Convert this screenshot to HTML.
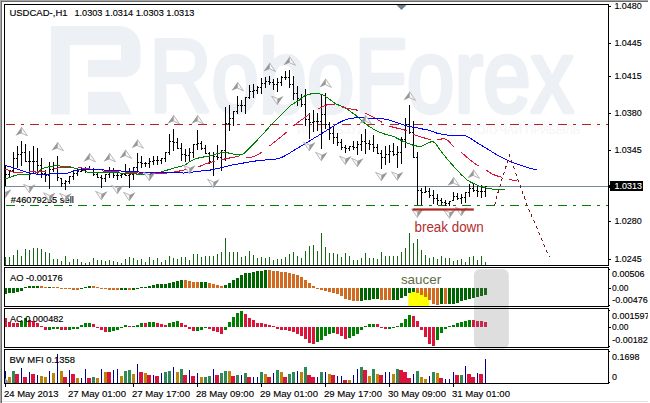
<!DOCTYPE html>
<html><head><meta charset="utf-8"><title>USDCAD H1</title>
<style>html,body{margin:0;padding:0;background:#fff;overflow:hidden;width:650px;height:403px;}svg{display:block}text{font-family:"Liberation Sans",sans-serif;}</style>
</head><body>
<svg width="650" height="403" viewBox="0 0 650 403">
<clipPath id="clipR"><rect x="0" y="0" width="648" height="403"/></clipPath>
<g clip-path="url(#clipR)">
<rect x="0" y="0" width="650" height="403" fill="#fff"/>
<g fill="#edf1f5">
<path d="M51,26 H119.5 A21,21 0 0 1 140.5,47 V62 A15,15 0 0 1 125.5,77 H88 V60 H121 V45 H69.8 V114.5 H51 Z"/>
<path d="M88,91.8 H120.3 L131.8,114.5 H88 Z"/>
<text transform="translate(149.5,111.6) scale(1,1.225)" x="0" y="0" font-family="Liberation Sans, sans-serif" font-size="85" stroke="#edf1f5" stroke-width="3.6" stroke-linejoin="round" textLength="424" lengthAdjust="spacingAndGlyphs">RoboForex</text>
</g>
<text x="297" y="134" font-family="Liberation Sans, sans-serif" font-size="12" fill="#f4f5f8" textLength="283" lengthAdjust="spacingAndGlyphs">ИСПОЛЬЗУЙ ВОЗМОЖНОСТЬ – ПОЛУЧАЙ ПРИБЫЛЬ</text>
<g shape-rendering="crispEdges">
<rect x="0" y="0" width="650" height="1" fill="#a8a8a8"/><rect x="0" y="0" width="1" height="403" fill="#a8a8a8"/>
<rect x="1" y="1" width="649" height="1" fill="#6a6a6a"/><rect x="1" y="1" width="1" height="402" fill="#6a6a6a"/>
<rect x="648" y="2" width="1" height="400" fill="#e3e3e3"/><rect x="2" y="401" width="647" height="1" fill="#e3e3e3"/>
<rect x="6" y="124" width="9" height="1" fill="#b22222"/>
<rect x="21" y="124" width="3" height="1" fill="#b22222"/>
<rect x="30" y="124" width="9" height="1" fill="#b22222"/>
<rect x="45" y="124" width="3" height="1" fill="#b22222"/>
<rect x="54" y="124" width="9" height="1" fill="#b22222"/>
<rect x="69" y="124" width="3" height="1" fill="#b22222"/>
<rect x="78" y="124" width="9" height="1" fill="#b22222"/>
<rect x="93" y="124" width="3" height="1" fill="#b22222"/>
<rect x="102" y="124" width="9" height="1" fill="#b22222"/>
<rect x="117" y="124" width="3" height="1" fill="#b22222"/>
<rect x="126" y="124" width="9" height="1" fill="#b22222"/>
<rect x="141" y="124" width="3" height="1" fill="#b22222"/>
<rect x="150" y="124" width="9" height="1" fill="#b22222"/>
<rect x="165" y="124" width="3" height="1" fill="#b22222"/>
<rect x="174" y="124" width="9" height="1" fill="#b22222"/>
<rect x="189" y="124" width="3" height="1" fill="#b22222"/>
<rect x="198" y="124" width="9" height="1" fill="#b22222"/>
<rect x="213" y="124" width="3" height="1" fill="#b22222"/>
<rect x="222" y="124" width="9" height="1" fill="#b22222"/>
<rect x="237" y="124" width="3" height="1" fill="#b22222"/>
<rect x="246" y="124" width="9" height="1" fill="#b22222"/>
<rect x="261" y="124" width="3" height="1" fill="#b22222"/>
<rect x="270" y="124" width="9" height="1" fill="#b22222"/>
<rect x="285" y="124" width="3" height="1" fill="#b22222"/>
<rect x="294" y="124" width="9" height="1" fill="#b22222"/>
<rect x="309" y="124" width="3" height="1" fill="#b22222"/>
<rect x="318" y="124" width="9" height="1" fill="#b22222"/>
<rect x="333" y="124" width="3" height="1" fill="#b22222"/>
<rect x="342" y="124" width="9" height="1" fill="#b22222"/>
<rect x="357" y="124" width="3" height="1" fill="#b22222"/>
<rect x="366" y="124" width="9" height="1" fill="#b22222"/>
<rect x="381" y="124" width="3" height="1" fill="#b22222"/>
<rect x="390" y="124" width="9" height="1" fill="#b22222"/>
<rect x="405" y="124" width="3" height="1" fill="#b22222"/>
<rect x="414" y="124" width="9" height="1" fill="#b22222"/>
<rect x="429" y="124" width="3" height="1" fill="#b22222"/>
<rect x="438" y="124" width="9" height="1" fill="#b22222"/>
<rect x="453" y="124" width="3" height="1" fill="#b22222"/>
<rect x="462" y="124" width="9" height="1" fill="#b22222"/>
<rect x="477" y="124" width="3" height="1" fill="#b22222"/>
<rect x="486" y="124" width="9" height="1" fill="#b22222"/>
<rect x="501" y="124" width="3" height="1" fill="#b22222"/>
<rect x="510" y="124" width="9" height="1" fill="#b22222"/>
<rect x="525" y="124" width="3" height="1" fill="#b22222"/>
<rect x="534" y="124" width="9" height="1" fill="#b22222"/>
<rect x="549" y="124" width="3" height="1" fill="#b22222"/>
<rect x="558" y="124" width="9" height="1" fill="#b22222"/>
<rect x="573" y="124" width="3" height="1" fill="#b22222"/>
<rect x="582" y="124" width="9" height="1" fill="#b22222"/>
<rect x="597" y="124" width="3" height="1" fill="#b22222"/>
<rect x="606" y="124" width="2" height="1" fill="#b22222"/>
<rect x="6" y="205" width="9" height="1" fill="#008000"/>
<rect x="21" y="205" width="3" height="1" fill="#008000"/>
<rect x="30" y="205" width="9" height="1" fill="#008000"/>
<rect x="45" y="205" width="3" height="1" fill="#008000"/>
<rect x="54" y="205" width="9" height="1" fill="#008000"/>
<rect x="69" y="205" width="3" height="1" fill="#008000"/>
<rect x="78" y="205" width="9" height="1" fill="#008000"/>
<rect x="93" y="205" width="3" height="1" fill="#008000"/>
<rect x="102" y="205" width="9" height="1" fill="#008000"/>
<rect x="117" y="205" width="3" height="1" fill="#008000"/>
<rect x="126" y="205" width="9" height="1" fill="#008000"/>
<rect x="141" y="205" width="3" height="1" fill="#008000"/>
<rect x="150" y="205" width="9" height="1" fill="#008000"/>
<rect x="165" y="205" width="3" height="1" fill="#008000"/>
<rect x="174" y="205" width="9" height="1" fill="#008000"/>
<rect x="189" y="205" width="3" height="1" fill="#008000"/>
<rect x="198" y="205" width="9" height="1" fill="#008000"/>
<rect x="213" y="205" width="3" height="1" fill="#008000"/>
<rect x="222" y="205" width="9" height="1" fill="#008000"/>
<rect x="237" y="205" width="3" height="1" fill="#008000"/>
<rect x="246" y="205" width="9" height="1" fill="#008000"/>
<rect x="261" y="205" width="3" height="1" fill="#008000"/>
<rect x="270" y="205" width="9" height="1" fill="#008000"/>
<rect x="285" y="205" width="3" height="1" fill="#008000"/>
<rect x="294" y="205" width="9" height="1" fill="#008000"/>
<rect x="309" y="205" width="3" height="1" fill="#008000"/>
<rect x="318" y="205" width="9" height="1" fill="#008000"/>
<rect x="333" y="205" width="3" height="1" fill="#008000"/>
<rect x="342" y="205" width="9" height="1" fill="#008000"/>
<rect x="357" y="205" width="3" height="1" fill="#008000"/>
<rect x="366" y="205" width="9" height="1" fill="#008000"/>
<rect x="381" y="205" width="3" height="1" fill="#008000"/>
<rect x="390" y="205" width="9" height="1" fill="#008000"/>
<rect x="405" y="205" width="3" height="1" fill="#008000"/>
<rect x="414" y="205" width="9" height="1" fill="#008000"/>
<rect x="429" y="205" width="3" height="1" fill="#008000"/>
<rect x="438" y="205" width="9" height="1" fill="#008000"/>
<rect x="453" y="205" width="3" height="1" fill="#008000"/>
<rect x="462" y="205" width="9" height="1" fill="#008000"/>
<rect x="477" y="205" width="3" height="1" fill="#008000"/>
<rect x="486" y="205" width="9" height="1" fill="#008000"/>
<rect x="501" y="205" width="3" height="1" fill="#008000"/>
<rect x="510" y="205" width="9" height="1" fill="#008000"/>
<rect x="525" y="205" width="3" height="1" fill="#008000"/>
<rect x="534" y="205" width="9" height="1" fill="#008000"/>
<rect x="549" y="205" width="3" height="1" fill="#008000"/>
<rect x="558" y="205" width="9" height="1" fill="#008000"/>
<rect x="573" y="205" width="3" height="1" fill="#008000"/>
<rect x="582" y="205" width="9" height="1" fill="#008000"/>
<rect x="597" y="205" width="3" height="1" fill="#008000"/>
<rect x="606" y="205" width="2" height="1" fill="#008000"/>
<rect x="5" y="186" width="603" height="1" fill="#778899"/>
<rect x="5" y="257" width="1" height="8" fill="#1a641a"/>
<rect x="9" y="257" width="1" height="8" fill="#1a641a"/>
<rect x="13" y="255" width="1" height="10" fill="#1a641a"/>
<rect x="17" y="250" width="1" height="15" fill="#1a641a"/>
<rect x="21" y="256" width="1" height="9" fill="#1a641a"/>
<rect x="25" y="249" width="1" height="16" fill="#1a641a"/>
<rect x="29" y="250" width="1" height="15" fill="#1a641a"/>
<rect x="33" y="248" width="1" height="17" fill="#1a641a"/>
<rect x="37" y="248" width="1" height="17" fill="#1a641a"/>
<rect x="41" y="249" width="1" height="16" fill="#1a641a"/>
<rect x="45" y="252" width="1" height="13" fill="#1a641a"/>
<rect x="49" y="253" width="1" height="12" fill="#1a641a"/>
<rect x="53" y="259" width="1" height="6" fill="#1a641a"/>
<rect x="57" y="259" width="1" height="6" fill="#1a641a"/>
<rect x="61" y="261" width="1" height="4" fill="#1a641a"/>
<rect x="65" y="256" width="1" height="9" fill="#1a641a"/>
<rect x="69" y="262" width="1" height="3" fill="#1a641a"/>
<rect x="73" y="259" width="1" height="6" fill="#1a641a"/>
<rect x="77" y="259" width="1" height="6" fill="#1a641a"/>
<rect x="81" y="262" width="1" height="3" fill="#1a641a"/>
<rect x="85" y="263" width="1" height="2" fill="#1a641a"/>
<rect x="89" y="262" width="1" height="3" fill="#1a641a"/>
<rect x="93" y="258" width="1" height="7" fill="#1a641a"/>
<rect x="97" y="260" width="1" height="5" fill="#1a641a"/>
<rect x="101" y="260" width="1" height="5" fill="#1a641a"/>
<rect x="105" y="261" width="1" height="4" fill="#1a641a"/>
<rect x="109" y="260" width="1" height="5" fill="#1a641a"/>
<rect x="113" y="261" width="1" height="4" fill="#1a641a"/>
<rect x="117" y="262" width="1" height="3" fill="#1a641a"/>
<rect x="121" y="263" width="1" height="2" fill="#1a641a"/>
<rect x="125" y="259" width="1" height="6" fill="#1a641a"/>
<rect x="129" y="257" width="1" height="8" fill="#1a641a"/>
<rect x="133" y="258" width="1" height="7" fill="#1a641a"/>
<rect x="137" y="260" width="1" height="5" fill="#1a641a"/>
<rect x="141" y="259" width="1" height="6" fill="#1a641a"/>
<rect x="145" y="262" width="1" height="3" fill="#1a641a"/>
<rect x="149" y="257" width="1" height="8" fill="#1a641a"/>
<rect x="153" y="260" width="1" height="5" fill="#1a641a"/>
<rect x="157" y="258" width="1" height="7" fill="#1a641a"/>
<rect x="161" y="262" width="1" height="3" fill="#1a641a"/>
<rect x="165" y="260" width="1" height="5" fill="#1a641a"/>
<rect x="169" y="256" width="1" height="9" fill="#1a641a"/>
<rect x="173" y="258" width="1" height="7" fill="#1a641a"/>
<rect x="177" y="259" width="1" height="6" fill="#1a641a"/>
<rect x="181" y="257" width="1" height="8" fill="#1a641a"/>
<rect x="185" y="257" width="1" height="8" fill="#1a641a"/>
<rect x="189" y="260" width="1" height="5" fill="#1a641a"/>
<rect x="193" y="254" width="1" height="11" fill="#1a641a"/>
<rect x="197" y="254" width="1" height="11" fill="#1a641a"/>
<rect x="201" y="257" width="1" height="8" fill="#1a641a"/>
<rect x="205" y="256" width="1" height="9" fill="#1a641a"/>
<rect x="209" y="256" width="1" height="9" fill="#1a641a"/>
<rect x="213" y="256" width="1" height="9" fill="#1a641a"/>
<rect x="217" y="254" width="1" height="11" fill="#1a641a"/>
<rect x="221" y="252" width="1" height="13" fill="#1a641a"/>
<rect x="225" y="238" width="1" height="27" fill="#1a641a"/>
<rect x="229" y="252" width="1" height="13" fill="#1a641a"/>
<rect x="233" y="252" width="1" height="13" fill="#1a641a"/>
<rect x="237" y="252" width="1" height="13" fill="#1a641a"/>
<rect x="241" y="257" width="1" height="8" fill="#1a641a"/>
<rect x="245" y="256" width="1" height="9" fill="#1a641a"/>
<rect x="249" y="251" width="1" height="14" fill="#1a641a"/>
<rect x="253" y="255" width="1" height="10" fill="#1a641a"/>
<rect x="257" y="258" width="1" height="7" fill="#1a641a"/>
<rect x="261" y="257" width="1" height="8" fill="#1a641a"/>
<rect x="265" y="258" width="1" height="7" fill="#1a641a"/>
<rect x="269" y="257" width="1" height="8" fill="#1a641a"/>
<rect x="273" y="260" width="1" height="5" fill="#1a641a"/>
<rect x="277" y="259" width="1" height="6" fill="#1a641a"/>
<rect x="281" y="259" width="1" height="6" fill="#1a641a"/>
<rect x="285" y="257" width="1" height="8" fill="#1a641a"/>
<rect x="289" y="254" width="1" height="11" fill="#1a641a"/>
<rect x="293" y="252" width="1" height="13" fill="#1a641a"/>
<rect x="297" y="256" width="1" height="9" fill="#1a641a"/>
<rect x="301" y="258" width="1" height="7" fill="#1a641a"/>
<rect x="305" y="251" width="1" height="14" fill="#1a641a"/>
<rect x="309" y="246" width="1" height="19" fill="#1a641a"/>
<rect x="313" y="245" width="1" height="20" fill="#1a641a"/>
<rect x="317" y="251" width="1" height="14" fill="#1a641a"/>
<rect x="321" y="233" width="1" height="32" fill="#1a641a"/>
<rect x="325" y="247" width="1" height="18" fill="#1a641a"/>
<rect x="329" y="253" width="1" height="12" fill="#1a641a"/>
<rect x="333" y="253" width="1" height="12" fill="#1a641a"/>
<rect x="337" y="254" width="1" height="11" fill="#1a641a"/>
<rect x="341" y="257" width="1" height="8" fill="#1a641a"/>
<rect x="345" y="253" width="1" height="12" fill="#1a641a"/>
<rect x="349" y="256" width="1" height="9" fill="#1a641a"/>
<rect x="353" y="260" width="1" height="5" fill="#1a641a"/>
<rect x="357" y="260" width="1" height="5" fill="#1a641a"/>
<rect x="361" y="258" width="1" height="7" fill="#1a641a"/>
<rect x="365" y="253" width="1" height="12" fill="#1a641a"/>
<rect x="369" y="258" width="1" height="7" fill="#1a641a"/>
<rect x="373" y="258" width="1" height="7" fill="#1a641a"/>
<rect x="377" y="259" width="1" height="6" fill="#1a641a"/>
<rect x="381" y="252" width="1" height="13" fill="#1a641a"/>
<rect x="385" y="256" width="1" height="9" fill="#1a641a"/>
<rect x="389" y="256" width="1" height="9" fill="#1a641a"/>
<rect x="393" y="256" width="1" height="9" fill="#1a641a"/>
<rect x="397" y="256" width="1" height="9" fill="#1a641a"/>
<rect x="401" y="252" width="1" height="13" fill="#1a641a"/>
<rect x="405" y="248" width="1" height="17" fill="#1a641a"/>
<rect x="409" y="233" width="1" height="32" fill="#1a641a"/>
<rect x="413" y="243" width="1" height="22" fill="#1a641a"/>
<rect x="417" y="239" width="1" height="26" fill="#1a641a"/>
<rect x="421" y="250" width="1" height="15" fill="#1a641a"/>
<rect x="425" y="255" width="1" height="10" fill="#1a641a"/>
<rect x="429" y="258" width="1" height="7" fill="#1a641a"/>
<rect x="433" y="257" width="1" height="8" fill="#1a641a"/>
<rect x="437" y="259" width="1" height="6" fill="#1a641a"/>
<rect x="441" y="256" width="1" height="9" fill="#1a641a"/>
<rect x="445" y="258" width="1" height="7" fill="#1a641a"/>
<rect x="449" y="258" width="1" height="7" fill="#1a641a"/>
<rect x="453" y="261" width="1" height="4" fill="#1a641a"/>
<rect x="457" y="260" width="1" height="5" fill="#1a641a"/>
<rect x="461" y="259" width="1" height="6" fill="#1a641a"/>
<rect x="465" y="262" width="1" height="3" fill="#1a641a"/>
<rect x="469" y="257" width="1" height="8" fill="#1a641a"/>
<rect x="473" y="256" width="1" height="9" fill="#1a641a"/>
<rect x="477" y="260" width="1" height="5" fill="#1a641a"/>
<rect x="481" y="256" width="1" height="9" fill="#1a641a"/>
<rect x="485" y="262" width="1" height="3" fill="#1a641a"/>
</g>
<g shape-rendering="crispEdges" fill="#000">
<rect x="5" y="166" width="1" height="20"/>
<rect x="4" y="168" width="1" height="1"/>
<rect x="6" y="174" width="1" height="1"/>
<rect x="9" y="170" width="1" height="8"/>
<rect x="8" y="174" width="1" height="1"/>
<rect x="10" y="170" width="1" height="1"/>
<rect x="13" y="152" width="1" height="20"/>
<rect x="12" y="170" width="1" height="1"/>
<rect x="14" y="158" width="1" height="1"/>
<rect x="17" y="146" width="1" height="22"/>
<rect x="16" y="158" width="1" height="1"/>
<rect x="18" y="154" width="1" height="1"/>
<rect x="21" y="141" width="1" height="25"/>
<rect x="20" y="154" width="1" height="1"/>
<rect x="22" y="152" width="1" height="1"/>
<rect x="25" y="144" width="1" height="18"/>
<rect x="24" y="152" width="1" height="1"/>
<rect x="26" y="161" width="1" height="1"/>
<rect x="29" y="151" width="1" height="29"/>
<rect x="28" y="161" width="1" height="1"/>
<rect x="30" y="161" width="1" height="1"/>
<rect x="33" y="146" width="1" height="28"/>
<rect x="32" y="161" width="1" height="1"/>
<rect x="34" y="161" width="1" height="1"/>
<rect x="37" y="148" width="1" height="27"/>
<rect x="36" y="161" width="1" height="1"/>
<rect x="38" y="165" width="1" height="1"/>
<rect x="41" y="158" width="1" height="20"/>
<rect x="40" y="165" width="1" height="1"/>
<rect x="42" y="173" width="1" height="1"/>
<rect x="45" y="170" width="1" height="12"/>
<rect x="44" y="173" width="1" height="1"/>
<rect x="46" y="175" width="1" height="1"/>
<rect x="49" y="162" width="1" height="27"/>
<rect x="48" y="175" width="1" height="1"/>
<rect x="50" y="169" width="1" height="1"/>
<rect x="53" y="162" width="1" height="10"/>
<rect x="52" y="169" width="1" height="1"/>
<rect x="54" y="168" width="1" height="1"/>
<rect x="57" y="156" width="1" height="25"/>
<rect x="56" y="168" width="1" height="1"/>
<rect x="58" y="177" width="1" height="1"/>
<rect x="61" y="178" width="1" height="9"/>
<rect x="60" y="178" width="1" height="1"/>
<rect x="62" y="183" width="1" height="1"/>
<rect x="65" y="180" width="1" height="10"/>
<rect x="64" y="183" width="1" height="1"/>
<rect x="66" y="181" width="1" height="1"/>
<rect x="69" y="176" width="1" height="8"/>
<rect x="68" y="181" width="1" height="1"/>
<rect x="70" y="176" width="1" height="1"/>
<rect x="73" y="170" width="1" height="10"/>
<rect x="72" y="176" width="1" height="1"/>
<rect x="74" y="173" width="1" height="1"/>
<rect x="77" y="168" width="1" height="8"/>
<rect x="76" y="173" width="1" height="1"/>
<rect x="78" y="171" width="1" height="1"/>
<rect x="81" y="168" width="1" height="4"/>
<rect x="80" y="171" width="1" height="1"/>
<rect x="82" y="170" width="1" height="1"/>
<rect x="85" y="167" width="1" height="6"/>
<rect x="84" y="170" width="1" height="1"/>
<rect x="86" y="169" width="1" height="1"/>
<rect x="89" y="166" width="1" height="4"/>
<rect x="88" y="169" width="1" height="1"/>
<rect x="90" y="169" width="1" height="1"/>
<rect x="93" y="168" width="1" height="8"/>
<rect x="92" y="169" width="1" height="1"/>
<rect x="94" y="174" width="1" height="1"/>
<rect x="97" y="173" width="1" height="5"/>
<rect x="96" y="174" width="1" height="1"/>
<rect x="98" y="177" width="1" height="1"/>
<rect x="101" y="175" width="1" height="13"/>
<rect x="100" y="177" width="1" height="1"/>
<rect x="102" y="178" width="1" height="1"/>
<rect x="105" y="174" width="1" height="8"/>
<rect x="104" y="178" width="1" height="1"/>
<rect x="106" y="174" width="1" height="1"/>
<rect x="109" y="167" width="1" height="11"/>
<rect x="108" y="174" width="1" height="1"/>
<rect x="110" y="172" width="1" height="1"/>
<rect x="113" y="168" width="1" height="10"/>
<rect x="112" y="172" width="1" height="1"/>
<rect x="114" y="175" width="1" height="1"/>
<rect x="117" y="172" width="1" height="8"/>
<rect x="116" y="175" width="1" height="1"/>
<rect x="118" y="175" width="1" height="1"/>
<rect x="121" y="174" width="1" height="4"/>
<rect x="120" y="175" width="1" height="1"/>
<rect x="122" y="174" width="1" height="1"/>
<rect x="125" y="164" width="1" height="12"/>
<rect x="124" y="174" width="1" height="1"/>
<rect x="126" y="175" width="1" height="1"/>
<rect x="129" y="168" width="1" height="20"/>
<rect x="128" y="175" width="1" height="1"/>
<rect x="130" y="174" width="1" height="1"/>
<rect x="133" y="167" width="1" height="13"/>
<rect x="132" y="174" width="1" height="1"/>
<rect x="134" y="167" width="1" height="1"/>
<rect x="137" y="153" width="1" height="20"/>
<rect x="136" y="167" width="1" height="1"/>
<rect x="138" y="162" width="1" height="1"/>
<rect x="141" y="156" width="1" height="12"/>
<rect x="140" y="162" width="1" height="1"/>
<rect x="142" y="163" width="1" height="1"/>
<rect x="145" y="162" width="1" height="5"/>
<rect x="144" y="163" width="1" height="1"/>
<rect x="146" y="163" width="1" height="1"/>
<rect x="149" y="158" width="1" height="10"/>
<rect x="148" y="163" width="1" height="1"/>
<rect x="150" y="161" width="1" height="1"/>
<rect x="153" y="156" width="1" height="9"/>
<rect x="152" y="161" width="1" height="1"/>
<rect x="154" y="160" width="1" height="1"/>
<rect x="157" y="156" width="1" height="9"/>
<rect x="156" y="160" width="1" height="1"/>
<rect x="158" y="160" width="1" height="1"/>
<rect x="161" y="158" width="1" height="6"/>
<rect x="160" y="160" width="1" height="1"/>
<rect x="162" y="158" width="1" height="1"/>
<rect x="165" y="152" width="1" height="10"/>
<rect x="164" y="158" width="1" height="1"/>
<rect x="166" y="152" width="1" height="1"/>
<rect x="169" y="134" width="1" height="21"/>
<rect x="168" y="152" width="1" height="1"/>
<rect x="170" y="141" width="1" height="1"/>
<rect x="173" y="129" width="1" height="22"/>
<rect x="172" y="141" width="1" height="1"/>
<rect x="174" y="142" width="1" height="1"/>
<rect x="177" y="138" width="1" height="11"/>
<rect x="176" y="142" width="1" height="1"/>
<rect x="178" y="148" width="1" height="1"/>
<rect x="181" y="143" width="1" height="18"/>
<rect x="180" y="148" width="1" height="1"/>
<rect x="182" y="154" width="1" height="1"/>
<rect x="185" y="149" width="1" height="13"/>
<rect x="184" y="154" width="1" height="1"/>
<rect x="186" y="155" width="1" height="1"/>
<rect x="189" y="148" width="1" height="14"/>
<rect x="188" y="155" width="1" height="1"/>
<rect x="190" y="152" width="1" height="1"/>
<rect x="193" y="144" width="1" height="14"/>
<rect x="192" y="152" width="1" height="1"/>
<rect x="194" y="144" width="1" height="1"/>
<rect x="197" y="130" width="1" height="20"/>
<rect x="196" y="144" width="1" height="1"/>
<rect x="198" y="143" width="1" height="1"/>
<rect x="201" y="141" width="1" height="9"/>
<rect x="200" y="143" width="1" height="1"/>
<rect x="202" y="148" width="1" height="1"/>
<rect x="205" y="145" width="1" height="9"/>
<rect x="204" y="148" width="1" height="1"/>
<rect x="206" y="153" width="1" height="1"/>
<rect x="209" y="152" width="1" height="12"/>
<rect x="208" y="153" width="1" height="1"/>
<rect x="210" y="161" width="1" height="1"/>
<rect x="213" y="152" width="1" height="24"/>
<rect x="212" y="161" width="1" height="1"/>
<rect x="214" y="156" width="1" height="1"/>
<rect x="217" y="145" width="1" height="15"/>
<rect x="216" y="156" width="1" height="1"/>
<rect x="218" y="157" width="1" height="1"/>
<rect x="221" y="150" width="1" height="21"/>
<rect x="220" y="157" width="1" height="1"/>
<rect x="222" y="150" width="1" height="1"/>
<rect x="225" y="107" width="1" height="54"/>
<rect x="224" y="150" width="1" height="1"/>
<rect x="226" y="123" width="1" height="1"/>
<rect x="229" y="105" width="1" height="26"/>
<rect x="228" y="123" width="1" height="1"/>
<rect x="230" y="118" width="1" height="1"/>
<rect x="233" y="111" width="1" height="15"/>
<rect x="232" y="118" width="1" height="1"/>
<rect x="234" y="111" width="1" height="1"/>
<rect x="237" y="96" width="1" height="18"/>
<rect x="236" y="111" width="1" height="1"/>
<rect x="238" y="105" width="1" height="1"/>
<rect x="241" y="100" width="1" height="12"/>
<rect x="240" y="105" width="1" height="1"/>
<rect x="242" y="105" width="1" height="1"/>
<rect x="245" y="97" width="1" height="17"/>
<rect x="244" y="105" width="1" height="1"/>
<rect x="246" y="97" width="1" height="1"/>
<rect x="249" y="85" width="1" height="14"/>
<rect x="248" y="97" width="1" height="1"/>
<rect x="250" y="91" width="1" height="1"/>
<rect x="253" y="84" width="1" height="14"/>
<rect x="252" y="91" width="1" height="1"/>
<rect x="254" y="90" width="1" height="1"/>
<rect x="257" y="86" width="1" height="8"/>
<rect x="256" y="90" width="1" height="1"/>
<rect x="258" y="87" width="1" height="1"/>
<rect x="261" y="78" width="1" height="16"/>
<rect x="260" y="87" width="1" height="1"/>
<rect x="262" y="83" width="1" height="1"/>
<rect x="265" y="77" width="1" height="11"/>
<rect x="264" y="83" width="1" height="1"/>
<rect x="266" y="81" width="1" height="1"/>
<rect x="269" y="76" width="1" height="9"/>
<rect x="268" y="81" width="1" height="1"/>
<rect x="270" y="82" width="1" height="1"/>
<rect x="273" y="79" width="1" height="11"/>
<rect x="272" y="82" width="1" height="1"/>
<rect x="274" y="84" width="1" height="1"/>
<rect x="277" y="78" width="1" height="14"/>
<rect x="276" y="84" width="1" height="1"/>
<rect x="278" y="82" width="1" height="1"/>
<rect x="281" y="76" width="1" height="10"/>
<rect x="280" y="82" width="1" height="1"/>
<rect x="282" y="77" width="1" height="1"/>
<rect x="285" y="71" width="1" height="9"/>
<rect x="284" y="77" width="1" height="1"/>
<rect x="286" y="77" width="1" height="1"/>
<rect x="289" y="70" width="1" height="18"/>
<rect x="288" y="77" width="1" height="1"/>
<rect x="290" y="84" width="1" height="1"/>
<rect x="293" y="76" width="1" height="24"/>
<rect x="292" y="84" width="1" height="1"/>
<rect x="294" y="93" width="1" height="1"/>
<rect x="297" y="86" width="1" height="20"/>
<rect x="296" y="93" width="1" height="1"/>
<rect x="298" y="98" width="1" height="1"/>
<rect x="301" y="94" width="1" height="13"/>
<rect x="300" y="98" width="1" height="1"/>
<rect x="302" y="104" width="1" height="1"/>
<rect x="305" y="89" width="1" height="37"/>
<rect x="304" y="104" width="1" height="1"/>
<rect x="306" y="119" width="1" height="1"/>
<rect x="309" y="113" width="1" height="26"/>
<rect x="308" y="119" width="1" height="1"/>
<rect x="310" y="122" width="1" height="1"/>
<rect x="313" y="110" width="1" height="22"/>
<rect x="312" y="122" width="1" height="1"/>
<rect x="314" y="121" width="1" height="1"/>
<rect x="317" y="113" width="1" height="18"/>
<rect x="316" y="121" width="1" height="1"/>
<rect x="318" y="121" width="1" height="1"/>
<rect x="321" y="94" width="1" height="55"/>
<rect x="320" y="121" width="1" height="1"/>
<rect x="322" y="114" width="1" height="1"/>
<rect x="325" y="93" width="1" height="36"/>
<rect x="324" y="114" width="1" height="1"/>
<rect x="326" y="124" width="1" height="1"/>
<rect x="329" y="122" width="1" height="18"/>
<rect x="328" y="124" width="1" height="1"/>
<rect x="330" y="133" width="1" height="1"/>
<rect x="333" y="126" width="1" height="18"/>
<rect x="332" y="133" width="1" height="1"/>
<rect x="334" y="137" width="1" height="1"/>
<rect x="337" y="133" width="1" height="13"/>
<rect x="336" y="137" width="1" height="1"/>
<rect x="338" y="142" width="1" height="1"/>
<rect x="341" y="139" width="1" height="11"/>
<rect x="340" y="142" width="1" height="1"/>
<rect x="342" y="147" width="1" height="1"/>
<rect x="345" y="145" width="1" height="8"/>
<rect x="344" y="147" width="1" height="1"/>
<rect x="346" y="148" width="1" height="1"/>
<rect x="349" y="146" width="1" height="5"/>
<rect x="348" y="148" width="1" height="1"/>
<rect x="350" y="146" width="1" height="1"/>
<rect x="353" y="141" width="1" height="9"/>
<rect x="352" y="146" width="1" height="1"/>
<rect x="354" y="147" width="1" height="1"/>
<rect x="357" y="141" width="1" height="14"/>
<rect x="356" y="147" width="1" height="1"/>
<rect x="358" y="144" width="1" height="1"/>
<rect x="361" y="134" width="1" height="17"/>
<rect x="360" y="144" width="1" height="1"/>
<rect x="362" y="141" width="1" height="1"/>
<rect x="365" y="129" width="1" height="25"/>
<rect x="364" y="141" width="1" height="1"/>
<rect x="366" y="143" width="1" height="1"/>
<rect x="369" y="140" width="1" height="10"/>
<rect x="368" y="143" width="1" height="1"/>
<rect x="370" y="144" width="1" height="1"/>
<rect x="373" y="135" width="1" height="17"/>
<rect x="372" y="144" width="1" height="1"/>
<rect x="374" y="147" width="1" height="1"/>
<rect x="377" y="144" width="1" height="10"/>
<rect x="376" y="147" width="1" height="1"/>
<rect x="378" y="153" width="1" height="1"/>
<rect x="381" y="150" width="1" height="19"/>
<rect x="380" y="153" width="1" height="1"/>
<rect x="382" y="157" width="1" height="1"/>
<rect x="385" y="146" width="1" height="19"/>
<rect x="384" y="157" width="1" height="1"/>
<rect x="386" y="154" width="1" height="1"/>
<rect x="389" y="145" width="1" height="18"/>
<rect x="388" y="154" width="1" height="1"/>
<rect x="390" y="151" width="1" height="1"/>
<rect x="393" y="143" width="1" height="13"/>
<rect x="392" y="151" width="1" height="1"/>
<rect x="394" y="154" width="1" height="1"/>
<rect x="397" y="146" width="1" height="22"/>
<rect x="396" y="154" width="1" height="1"/>
<rect x="398" y="152" width="1" height="1"/>
<rect x="401" y="137" width="1" height="27"/>
<rect x="400" y="152" width="1" height="1"/>
<rect x="402" y="139" width="1" height="1"/>
<rect x="405" y="118" width="1" height="30"/>
<rect x="404" y="139" width="1" height="1"/>
<rect x="406" y="124" width="1" height="1"/>
<rect x="409" y="105" width="1" height="29"/>
<rect x="408" y="124" width="1" height="1"/>
<rect x="410" y="132" width="1" height="1"/>
<rect x="413" y="121" width="1" height="37"/>
<rect x="412" y="132" width="1" height="1"/>
<rect x="414" y="157" width="1" height="1"/>
<rect x="417" y="152" width="1" height="53"/>
<rect x="416" y="157" width="1" height="1"/>
<rect x="418" y="190" width="1" height="1"/>
<rect x="421" y="188" width="1" height="17"/>
<rect x="420" y="190" width="1" height="1"/>
<rect x="422" y="192" width="1" height="1"/>
<rect x="425" y="186" width="1" height="7"/>
<rect x="424" y="192" width="1" height="1"/>
<rect x="426" y="191" width="1" height="1"/>
<rect x="429" y="188" width="1" height="10"/>
<rect x="428" y="191" width="1" height="1"/>
<rect x="430" y="195" width="1" height="1"/>
<rect x="433" y="190" width="1" height="14"/>
<rect x="432" y="195" width="1" height="1"/>
<rect x="434" y="198" width="1" height="1"/>
<rect x="437" y="194" width="1" height="11"/>
<rect x="436" y="198" width="1" height="1"/>
<rect x="438" y="200" width="1" height="1"/>
<rect x="441" y="198" width="1" height="7"/>
<rect x="440" y="200" width="1" height="1"/>
<rect x="442" y="202" width="1" height="1"/>
<rect x="445" y="200" width="1" height="6"/>
<rect x="444" y="202" width="1" height="1"/>
<rect x="446" y="203" width="1" height="1"/>
<rect x="449" y="201" width="1" height="5"/>
<rect x="448" y="203" width="1" height="1"/>
<rect x="450" y="201" width="1" height="1"/>
<rect x="453" y="192" width="1" height="9"/>
<rect x="452" y="200" width="1" height="1"/>
<rect x="454" y="196" width="1" height="1"/>
<rect x="457" y="193" width="1" height="7"/>
<rect x="456" y="196" width="1" height="1"/>
<rect x="458" y="198" width="1" height="1"/>
<rect x="461" y="194" width="1" height="10"/>
<rect x="460" y="198" width="1" height="1"/>
<rect x="462" y="197" width="1" height="1"/>
<rect x="465" y="192" width="1" height="11"/>
<rect x="464" y="197" width="1" height="1"/>
<rect x="466" y="192" width="1" height="1"/>
<rect x="469" y="184" width="1" height="13"/>
<rect x="468" y="192" width="1" height="1"/>
<rect x="470" y="188" width="1" height="1"/>
<rect x="473" y="183" width="1" height="9"/>
<rect x="472" y="188" width="1" height="1"/>
<rect x="474" y="190" width="1" height="1"/>
<rect x="477" y="186" width="1" height="11"/>
<rect x="476" y="190" width="1" height="1"/>
<rect x="478" y="191" width="1" height="1"/>
<rect x="481" y="185" width="1" height="13"/>
<rect x="480" y="191" width="1" height="1"/>
<rect x="482" y="191" width="1" height="1"/>
<rect x="485" y="186" width="1" height="11"/>
<rect x="484" y="191" width="1" height="1"/>
<rect x="486" y="186" width="1" height="1"/>
</g>
<path d="M5.5,179.0 L6.5,178.4 L7.5,178.3 L8.5,177.9 L9.5,177.5 L10.5,177.2 L11.5,176.8 L12.5,176.4 L13.5,176.0 L14.5,175.6 L15.5,175.3 L16.5,175.1 L17.5,174.9 L18.5,174.8 L19.5,174.8 L20.5,174.7 L21.5,174.6 L22.5,174.5 L23.5,174.5 L24.5,174.4 L25.5,174.4 L26.5,174.3 L27.5,174.2 L28.5,174.2 L29.5,174.1 L30.5,174.1 L31.5,173.9 L32.5,173.7 L33.5,173.4 L34.5,173.1 L35.5,172.7 L36.5,172.3 L37.5,171.8 L38.5,171.2 L39.5,170.6 L40.5,170.0 L41.5,169.4 L42.5,168.9 L43.5,168.3 L44.5,167.9 L45.5,167.6 L46.5,167.3 L47.5,167.1 L48.5,167.0 L49.5,166.9 L50.5,166.8 L51.5,166.6 L52.5,166.4 L53.5,166.2 L54.5,165.9 L55.5,165.6 L56.5,165.5 L57.5,165.4 L58.5,165.6 L59.5,165.8 L60.5,166.2 L61.5,166.5 L62.5,166.8 L63.5,166.9 L64.5,167.1 L65.5,167.2 L66.5,167.3 L67.5,167.3 L68.5,167.4 L69.5,167.5 L70.5,167.5 L71.5,167.6 L72.5,167.7 L73.5,167.9 L74.5,168.2 L75.5,168.4 L76.5,168.7 L77.5,168.9 L78.5,169.1 L79.5,169.2 L80.5,169.4 L81.5,169.6 L82.5,169.9 L83.5,170.3 L84.5,170.8 L85.5,171.3 L86.5,171.8 L87.5,172.2 L88.5,172.5 L89.5,172.7 L90.5,172.8 L91.5,172.8 L92.5,172.8 L93.5,172.8 L94.5,172.8 L95.5,172.8 L96.5,172.8 L97.5,172.8 L98.5,172.8 L99.5,172.8 L100.5,172.8 L101.5,172.7 L102.5,172.7 L103.5,172.7 L104.5,172.6 L105.5,172.6 L106.5,172.6 L107.5,172.5 L108.5,172.5 L109.5,172.5 L110.5,172.5 L111.5,172.5 L112.5,172.5 L113.5,172.5 L114.5,172.6 L115.5,172.7 L116.5,172.8 L117.5,172.9 L118.5,172.9 L119.5,173.0 L120.5,173.1 L121.5,173.2 L122.5,173.3 L123.5,173.3 L124.5,173.4 L125.5,173.5 L126.5,173.5 L127.5,173.6 L128.5,173.6 L129.5,173.7 L130.5,173.7 L131.5,173.8 L132.5,173.8 L133.5,173.9 L134.5,173.9 L135.5,173.9 L136.5,174.0 L137.5,174.0 L138.5,174.0 L139.5,174.0 L140.5,174.0 L141.5,174.0 L142.5,174.0 L143.5,174.0 L144.5,174.0 L145.5,174.0 L146.5,174.0 L147.5,174.0 L148.5,174.0 L149.5,174.0 L150.5,174.0 L151.5,174.0 L152.5,174.0 L153.5,174.0 L154.5,173.9 L155.5,173.7 L156.5,173.5 L157.5,173.2 L158.5,172.8 L159.5,172.5 L160.5,172.2 L161.5,171.9 L162.5,171.5 L163.5,171.2 L164.5,170.9 L165.5,170.6 L166.5,170.3 L167.5,170.0 L168.5,169.7 L169.5,169.4 L170.5,169.1 L171.5,168.8 L172.5,168.5 L173.5,168.2 L174.5,167.9 L175.5,167.6 L176.5,167.3 L177.5,167.1 L178.5,166.8 L179.5,166.6 L180.5,166.3 L181.5,166.1 L182.5,165.8 L183.5,165.5 L184.5,165.1 L185.5,164.6 L186.5,164.0 L187.5,163.4 L188.5,162.6 L189.5,161.9 L190.5,161.3 L191.5,160.7 L192.5,160.2 L193.5,159.7 L194.5,159.2 L195.5,158.8 L196.5,158.5 L197.5,158.2 L198.5,158.0 L199.5,157.8 L200.5,157.6 L201.5,157.4 L202.5,157.2 L203.5,157.0 L204.5,156.9 L205.5,156.7 L206.5,156.5 L207.5,156.4 L208.5,156.2 L209.5,156.0 L210.5,155.7 L211.5,155.4 L212.5,155.1 L213.5,154.8 L214.5,154.4 L215.5,154.1 L216.5,153.8 L217.5,153.5 L218.5,153.3 L219.5,153.1 L220.5,152.9 L221.5,152.6 L222.5,152.4 L223.5,152.3 L224.5,152.3 L225.5,152.3 L226.5,152.5 L227.5,152.8 L228.5,153.0 L229.5,153.3 L230.5,153.5 L231.5,153.7 L232.5,153.9 L233.5,154.1 L234.5,154.3 L235.5,154.4 L236.5,154.6 L237.5,154.8 L238.5,154.9 L239.5,155.0 L240.5,154.9 L241.5,154.7 L242.5,154.3 L243.5,153.7 L244.5,153.0 L245.5,152.2 L246.5,151.2 L247.5,150.2 L248.5,149.2 L249.5,148.2 L250.5,147.1 L251.5,146.1 L252.5,145.1 L253.5,144.0 L254.5,143.0 L255.5,141.9 L256.5,140.9 L257.5,139.8 L258.5,138.7 L259.5,137.7 L260.5,136.6 L261.5,135.5 L262.5,134.5 L263.5,133.4 L264.5,132.3 L265.5,131.2 L266.5,130.1 L267.5,128.9 L268.5,127.8 L269.5,126.7 L270.5,125.5 L271.5,124.4 L272.5,123.4 L273.5,122.3 L274.5,121.3 L275.5,120.3 L276.5,119.3 L277.5,118.3 L278.5,117.3 L279.5,116.3 L280.5,115.3 L281.5,114.3 L282.5,113.3 L283.5,112.3 L284.5,111.3 L285.5,110.3 L286.5,109.3 L287.5,108.3 L288.5,107.3 L289.5,106.4 L290.5,105.6 L291.5,104.8 L292.5,104.2 L293.5,103.6 L294.5,103.0 L295.5,102.4 L296.5,101.8 L297.5,101.2 L298.5,100.6 L299.5,99.9 L300.5,99.1 L301.5,98.3 L302.5,97.4 L303.5,96.6 L304.5,96.0 L305.5,95.5 L306.5,95.1 L307.5,94.8 L308.5,94.5 L309.5,94.2 L310.5,94.0 L311.5,93.8 L312.5,93.6 L313.5,93.5 L314.5,93.5 L315.5,93.5 L316.5,93.5 L317.5,93.5 L318.5,93.6 L319.5,93.8 L320.5,94.1 L321.5,94.4 L322.5,94.9 L323.5,95.4 L324.5,95.9 L325.5,96.5 L326.5,97.1 L327.5,97.8 L328.5,98.6 L329.5,99.3 L330.5,100.1 L331.5,100.8 L332.5,101.6 L333.5,102.3 L334.5,103.0 L335.5,103.6 L336.5,104.1 L337.5,104.5 L338.5,105.0 L339.5,105.4 L340.5,105.8 L341.5,106.2 L342.5,106.6 L343.5,107.0 L344.5,107.5 L345.5,108.0 L346.5,108.6 L347.5,109.3 L348.5,110.0 L349.5,110.7 L350.5,111.4 L351.5,112.2 L352.5,112.9 L353.5,113.6 L354.5,114.3 L355.5,115.1 L356.5,115.9 L357.5,116.7 L358.5,117.6 L359.5,118.5 L360.5,119.4 L361.5,120.3 L362.5,121.2 L363.5,122.1 L364.5,123.0 L365.5,123.8 L366.5,124.6 L367.5,125.3 L368.5,125.9 L369.5,126.6 L370.5,127.2 L371.5,127.8 L372.5,128.5 L373.5,129.1 L374.5,129.7 L375.5,130.3 L376.5,130.8 L377.5,131.3 L378.5,131.7 L379.5,132.1 L380.5,132.5 L381.5,132.9 L382.5,133.2 L383.5,133.6 L384.5,134.0 L385.5,134.3 L386.5,134.7 L387.5,134.9 L388.5,135.2 L389.5,135.4 L390.5,135.6 L391.5,135.8 L392.5,136.1 L393.5,136.5 L394.5,136.9 L395.5,137.4 L396.5,138.0 L397.5,138.5 L398.5,139.0 L399.5,139.5 L400.5,140.0 L401.5,140.5 L402.5,141.0 L403.5,141.4 L404.5,141.9 L405.5,142.3 L406.5,142.7 L407.5,143.1 L408.5,143.5 L409.5,143.9 L410.5,144.3 L411.5,144.7 L412.5,145.0 L413.5,145.2 L414.5,145.5 L415.5,145.7 L416.5,146.0 L417.5,146.3 L418.5,146.5 L419.5,146.6 L420.5,146.5 L421.5,146.3 L422.5,145.9 L423.5,145.4 L424.5,144.9 L425.5,144.4 L426.5,143.8 L427.5,143.3 L428.5,142.8 L429.5,142.3 L430.5,142.0 L431.5,141.7 L432.5,141.6 L433.5,142.0 L434.5,142.6 L435.5,143.6 L436.5,144.8 L437.5,146.2 L438.5,147.7 L439.5,149.1 L440.5,150.4 L441.5,151.8 L442.5,153.2 L443.5,154.5 L444.5,155.7 L445.5,156.9 L446.5,158.1 L447.5,159.3 L448.5,160.5 L449.5,161.6 L450.5,162.8 L451.5,164.0 L452.5,165.1 L453.5,166.2 L454.5,167.3 L455.5,168.4 L456.5,169.5 L457.5,170.6 L458.5,171.6 L459.5,172.7 L460.5,173.8 L461.5,174.8 L462.5,175.8 L463.5,176.7 L464.5,177.7 L465.5,178.6 L466.5,179.4 L467.5,180.2 L468.5,180.9 L469.5,181.5 L470.5,182.0 L471.5,182.5 L472.5,183.0 L473.5,183.5 L474.5,183.9 L475.5,184.4 L476.5,184.9 L477.5,185.3 L478.5,185.7 L479.5,186.1 L480.5,186.4 L481.5,186.7 L482.5,187.0 L483.5,187.4 L484.5,187.7 L485.5,187.9 L486.5,188.1 L487.5,188.3 L488.5,188.5 L489.5,188.6 L490.5,188.8 L491.5,188.9 L492.5,189.1 L493.5,189.1 L494.5,189.2 L495.5,189.2 L496.5,189.2 L497.5,189.2 L498.5,189.2 L499.5,189.2 L500.5,189.2 L501.5,189.2 L502.5,189.2 L503.5,189.2 L504.5,189.2 L504.6,189.2" fill="none" stroke="#008000" stroke-width="1" shape-rendering="crispEdges"/>
<path d="M5.5,169.0 L6.5,169.7 L7.5,169.9 L8.5,170.4 L9.5,170.9 L10.5,171.2 L11.5,171.6 L12.5,171.8 L13.5,172.1 L14.5,172.2 L15.5,172.3 L16.5,172.4 L17.5,172.4 L18.5,172.4 L19.5,172.3 L20.5,172.3 L21.5,172.3 L22.5,172.2 M29.5,171.8 L30.5,171.7 L31.5,171.7 L32.5,171.7 L33.5,171.8 L34.5,171.9 L35.5,172.0 L36.5,172.0 L37.5,172.0 L38.5,172.0 L39.5,171.9 L40.5,171.8 L41.5,171.6 L42.5,171.5 L43.5,171.4 L44.5,171.3 L45.5,171.1 L46.5,171.0 M53.5,169.1 L54.5,168.9 L55.5,168.6 L56.5,168.3 L57.5,168.1 L58.5,167.8 L59.5,167.6 L60.5,167.4 L61.5,167.2 L62.5,167.1 L63.5,167.1 L64.5,167.0 L65.5,166.9 L66.5,166.9 L67.5,166.8 L68.5,166.8 L69.5,166.8 L70.5,166.8 M77.5,167.6 L78.5,167.7 L79.5,167.8 L80.5,167.9 L81.5,168.0 L82.5,168.1 L83.5,168.2 L84.5,168.2 L85.5,168.3 L86.5,168.5 L87.5,168.6 L88.5,168.7 L89.5,168.9 L90.5,169.1 L91.5,169.3 L92.5,169.5 L93.5,169.7 L94.5,169.8 M101.5,170.9 L102.5,171.0 L103.5,171.1 L104.5,171.2 L105.5,171.2 L106.5,171.3 L107.5,171.3 L108.5,171.3 L109.5,171.3 L110.5,171.3 L111.5,171.4 L112.5,171.4 L113.5,171.4 L114.5,171.4 L115.5,171.4 L116.5,171.5 L117.5,171.5 L118.5,171.6 M125.5,172.1 L126.5,172.2 L127.5,172.2 L128.5,172.3 L129.5,172.4 L130.5,172.5 L131.5,172.5 L132.5,172.6 L133.5,172.7 L134.5,172.8 L135.5,172.8 L136.5,172.9 L137.5,173.0 L138.5,173.1 L139.5,173.2 L140.5,173.2 L141.5,173.3 L142.5,173.3 M149.5,173.4 L150.5,173.4 L151.5,173.5 L152.5,173.5 L153.5,173.5 L154.5,173.5 L155.5,173.5 L156.5,173.5 L157.5,173.5 L158.5,173.5 L159.5,173.5 L160.5,173.5 L161.5,173.5 L162.5,173.5 L163.5,173.5 L164.5,173.4 L165.5,173.4 L166.5,173.3 M173.5,172.2 L174.5,172.0 L175.5,171.8 L176.5,171.6 L177.5,171.4 L178.5,171.2 L179.5,171.0 L180.5,170.8 L181.5,170.6 L182.5,170.4 L183.5,170.2 L184.5,169.9 L185.5,169.7 L186.5,169.5 L187.5,169.3 L188.5,169.1 L189.5,168.9 L190.5,168.7 M197.5,167.2 L198.5,166.9 L199.5,166.4 L200.5,166.0 L201.5,165.5 L202.5,165.1 L203.5,164.7 L204.5,164.3 L205.5,163.9 L206.5,163.6 L207.5,163.3 L208.5,163.0 L209.5,162.7 L210.5,162.4 L211.5,162.2 L212.5,161.9 L213.5,161.6 L214.5,161.4 M221.5,159.7 L222.5,159.4 L223.5,159.2 L224.5,159.0 L225.5,158.7 L226.5,158.5 L227.5,158.3 L228.5,158.2 L229.5,158.0 L230.5,157.8 L231.5,157.6 L232.5,157.4 L233.5,157.3 L234.5,157.1 L235.5,156.9 L236.5,156.7 L237.5,156.6 L238.5,156.6 M245.5,157.2 L246.5,157.2 L247.5,157.2 L248.5,157.2 L249.5,157.2 L250.5,157.2 L251.5,157.1 L252.5,157.0 L253.5,156.7 L254.5,156.4 L255.5,155.9 L256.5,155.4 L257.5,154.9 L258.5,154.4 L259.5,153.8 L260.5,153.1 L261.5,152.4 L262.5,151.7 M269.5,146.1 L270.5,145.3 L271.5,144.5 L272.5,143.6 L273.5,142.8 L274.5,142.0 L275.5,141.2 L276.5,140.4 L277.5,139.6 L278.5,138.8 L279.5,138.0 L280.5,137.2 L281.5,136.4 L282.5,135.5 L283.5,134.7 L284.5,133.9 L285.5,133.1 L286.5,132.2 M293.5,126.0 L294.5,125.2 L295.5,124.4 L296.5,123.6 L297.5,122.8 L298.5,122.1 L299.5,121.3 L300.5,120.6 L301.5,119.9 L302.5,119.2 L303.5,118.4 L304.5,117.7 L305.5,117.0 L306.5,116.3 L307.5,115.6 L308.5,114.9 L309.5,114.2 L310.5,113.5 M317.5,109.2 L318.5,108.6 L319.5,108.1 L320.5,107.6 L321.5,107.1 L322.5,106.6 L323.5,106.1 L324.5,105.7 L325.5,105.3 L326.5,105.0 L327.5,104.8 L328.5,104.7 L329.5,104.6 L330.5,104.5 L331.5,104.4 L332.5,104.4 L333.5,104.4 L334.5,104.6 M341.5,106.7 L342.5,107.0 L343.5,107.3 L344.5,107.6 L345.5,107.8 L346.5,108.1 L347.5,108.3 L348.5,108.5 L349.5,108.7 L350.5,108.9 L351.5,109.1 L352.5,109.2 L353.5,109.4 L354.5,109.6 L355.5,109.8 L356.5,110.0 L357.5,110.2 L358.5,110.5 M365.5,113.4 L366.5,113.9 L367.5,114.3 L368.5,114.8 L369.5,115.3 L370.5,115.8 L371.5,116.3 L372.5,116.8 L373.5,117.3 L374.5,117.8 L375.5,118.4 L376.5,118.9 L377.5,119.5 L378.5,120.1 L379.5,120.7 L380.5,121.4 L381.5,122.0 L382.5,122.5 M389.5,126.0 L390.5,126.3 L391.5,126.6 L392.5,127.0 L393.5,127.2 L394.5,127.5 L395.5,127.8 L396.5,128.0 L397.5,128.2 L398.5,128.5 L399.5,128.7 L400.5,128.9 L401.5,129.2 L402.5,129.4 L403.5,129.7 L404.5,130.0 L405.5,130.4 L406.5,130.8 M413.5,134.5 L414.5,134.9 L415.5,135.2 L416.5,135.5 L417.5,135.8 L418.5,136.1 L419.5,136.5 L420.5,136.8 L421.5,137.1 L422.5,137.4 L423.5,137.7 L424.5,138.0 L425.5,138.3 L426.5,138.6 L427.5,138.9 L428.5,139.2 L429.5,139.5 L430.5,139.7 M437.5,139.8 L438.5,139.7 L439.5,139.5 L440.5,139.2 L441.5,139.0 L442.5,138.9 L443.5,138.8 L444.5,138.9 L445.5,139.2 L446.5,139.6 L447.5,140.2 L448.5,141.0 L449.5,142.0 L450.5,143.2 L451.5,144.5 L452.5,145.6 L453.5,146.6 L454.5,147.5 M461.5,152.5 L462.5,153.4 L463.5,154.2 L464.5,155.1 L465.5,156.0 L466.5,156.9 L467.5,157.8 L468.5,158.7 L469.5,159.5 L470.5,160.3 L471.5,161.1 L472.5,161.8 L473.5,162.5 L474.5,163.2 L475.5,164.0 L476.5,164.6 L477.5,165.3 L478.5,165.9 M485.5,169.8 L486.5,170.4 L487.5,171.1 L488.5,171.7 L489.5,172.3 L490.5,173.0 L491.5,173.6 L492.5,174.1 L493.5,174.6 L494.5,175.0 L495.5,175.4 L496.5,175.7 L497.5,176.0 L498.5,176.3 L499.5,176.6 L500.5,176.9 L501.5,177.2 L502.5,177.5 M509.5,179.4 L510.5,179.7 L511.5,179.9 L512.5,180.1 L513.5,180.4 L514.5,180.6 L515.5,180.8 L516.5,180.9 L517.0,181.2" fill="none" stroke="#dc143c" stroke-width="1" shape-rendering="crispEdges"/>
<path d="M5.0,165.5 L6.0,165.9 L7.0,166.0 L8.0,166.2 L9.0,166.5 L10.0,166.7 L11.0,167.0 L12.0,167.3 L13.0,167.6 L14.0,167.9 L15.0,168.2 L16.0,168.6 L17.0,168.9 L18.0,169.2 L19.0,169.6 L20.0,169.9 L21.0,170.3 L22.0,170.7 L23.0,171.0 L24.0,171.4 L25.0,171.8 L26.0,172.1 L27.0,172.4 L28.0,172.7 L29.0,172.9 L30.0,173.1 L31.0,173.3 L32.0,173.5 L33.0,173.7 L34.0,173.8 L35.0,173.9 L36.0,174.0 L37.0,174.0 L38.0,174.0 L39.0,174.0 L40.0,174.0 L41.0,174.0 L42.0,174.0 L43.0,174.0 L44.0,174.0 L45.0,174.0 L46.0,174.0 L47.0,174.0 L48.0,174.0 L49.0,174.0 L50.0,174.0 L51.0,173.9 L52.0,173.9 L53.0,173.9 L54.0,173.9 L55.0,173.8 L56.0,173.8 L57.0,173.8 L58.0,173.7 L59.0,173.7 L60.0,173.7 L61.0,173.7 L62.0,173.6 L63.0,173.6 L64.0,173.6 L65.0,173.5 L66.0,173.4 L67.0,173.2 L68.0,173.0 L69.0,172.6 L70.0,172.3 L71.0,172.0 L72.0,171.6 L73.0,171.3 L74.0,171.0 L75.0,170.8 L76.0,170.6 L77.0,170.4 L78.0,170.2 L79.0,170.0 L80.0,169.9 L81.0,169.7 L82.0,169.6 L83.0,169.5 L84.0,169.4 L85.0,169.3 L86.0,169.2 L87.0,169.1 L88.0,169.1 L89.0,169.1 L90.0,169.2 L91.0,169.2 L92.0,169.3 L93.0,169.3 L94.0,169.4 L95.0,169.4 L96.0,169.5 L97.0,169.6 L98.0,169.6 L99.0,169.7 L100.0,169.7 L101.0,169.8 L102.0,169.8 L103.0,169.9 L104.0,170.0 L105.0,170.0 L106.0,170.1 L107.0,170.2 L108.0,170.2 L109.0,170.3 L110.0,170.3 L111.0,170.4 L112.0,170.5 L113.0,170.5 L114.0,170.6 L115.0,170.7 L116.0,170.7 L117.0,170.8 L118.0,170.8 L119.0,170.9 L120.0,170.9 L121.0,171.0 L122.0,171.0 L123.0,171.1 L124.0,171.2 L125.0,171.2 L126.0,171.3 L127.0,171.3 L128.0,171.4 L129.0,171.4 L130.0,171.5 L131.0,171.5 L132.0,171.6 L133.0,171.6 L134.0,171.7 L135.0,171.7 L136.0,171.8 L137.0,171.8 L138.0,171.9 L139.0,172.0 L140.0,172.0 L141.0,172.1 L142.0,172.1 L143.0,172.2 L144.0,172.2 L145.0,172.3 L146.0,172.3 L147.0,172.4 L148.0,172.4 L149.0,172.5 L150.0,172.5 L151.0,172.6 L152.0,172.6 L153.0,172.7 L154.0,172.7 L155.0,172.8 L156.0,172.8 L157.0,172.8 L158.0,172.8 L159.0,172.8 L160.0,172.8 L161.0,172.8 L162.0,172.8 L163.0,172.8 L164.0,172.8 L165.0,172.8 L166.0,172.8 L167.0,172.8 L168.0,172.8 L169.0,172.8 L170.0,172.8 L171.0,172.8 L172.0,172.8 L173.0,172.8 L174.0,172.8 L175.0,172.8 L176.0,172.8 L177.0,172.8 L178.0,172.9 L179.0,172.9 L180.0,172.9 L181.0,172.9 L182.0,172.9 L183.0,173.0 L184.0,173.0 L185.0,172.9 L186.0,172.8 L187.0,172.8 L188.0,172.6 L189.0,172.5 L190.0,172.4 L191.0,172.2 L192.0,172.1 L193.0,172.0 L194.0,171.9 L195.0,171.8 L196.0,171.6 L197.0,171.5 L198.0,171.4 L199.0,171.2 L200.0,171.1 L201.0,171.0 L202.0,170.9 L203.0,170.8 L204.0,170.7 L205.0,170.6 L206.0,170.5 L207.0,170.4 L208.0,170.3 L209.0,170.2 L210.0,170.1 L211.0,169.9 L212.0,169.8 L213.0,169.6 L214.0,169.3 L215.0,169.1 L216.0,168.9 L217.0,168.7 L218.0,168.4 L219.0,168.2 L220.0,167.9 L221.0,167.7 L222.0,167.4 L223.0,167.2 L224.0,166.9 L225.0,166.7 L226.0,166.4 L227.0,166.2 L228.0,165.9 L229.0,165.7 L230.0,165.5 L231.0,165.3 L232.0,165.1 L233.0,164.9 L234.0,164.7 L235.0,164.6 L236.0,164.4 L237.0,164.2 L238.0,164.0 L239.0,163.8 L240.0,163.6 L241.0,163.4 L242.0,163.2 L243.0,163.1 L244.0,162.9 L245.0,162.7 L246.0,162.5 L247.0,162.4 L248.0,162.2 L249.0,162.0 L250.0,161.9 L251.0,161.7 L252.0,161.5 L253.0,161.4 L254.0,161.2 L255.0,161.1 L256.0,160.9 L257.0,160.8 L258.0,160.7 L259.0,160.6 L260.0,160.4 L261.0,160.3 L262.0,160.2 L263.0,160.1 L264.0,160.1 L265.0,160.0 L266.0,159.9 L267.0,159.9 L268.0,159.8 L269.0,159.7 L270.0,159.6 L271.0,159.6 L272.0,159.5 L273.0,159.4 L274.0,159.4 L275.0,159.3 L276.0,159.1 L277.0,158.9 L278.0,158.6 L279.0,158.3 L280.0,157.9 L281.0,157.6 L282.0,157.2 L283.0,156.8 L284.0,156.3 L285.0,155.8 L286.0,155.2 L287.0,154.6 L288.0,154.0 L289.0,153.4 L290.0,152.8 L291.0,152.1 L292.0,151.5 L293.0,150.9 L294.0,150.3 L295.0,149.7 L296.0,149.1 L297.0,148.5 L298.0,147.9 L299.0,147.3 L300.0,146.7 L301.0,146.1 L302.0,145.5 L303.0,144.9 L304.0,144.3 L305.0,143.7 L306.0,143.1 L307.0,142.5 L308.0,141.9 L309.0,141.3 L310.0,140.7 L311.0,140.1 L312.0,139.4 L313.0,138.8 L314.0,138.2 L315.0,137.6 L316.0,137.0 L317.0,136.4 L318.0,135.8 L319.0,135.2 L320.0,134.5 L321.0,133.9 L322.0,133.3 L323.0,132.7 L324.0,132.0 L325.0,131.4 L326.0,130.8 L327.0,130.1 L328.0,129.5 L329.0,128.9 L330.0,128.3 L331.0,127.6 L332.0,127.0 L333.0,126.4 L334.0,125.8 L335.0,125.2 L336.0,124.6 L337.0,124.0 L338.0,123.3 L339.0,122.7 L340.0,122.2 L341.0,121.7 L342.0,121.2 L343.0,120.8 L344.0,120.5 L345.0,120.1 L346.0,119.8 L347.0,119.4 L348.0,119.1 L349.0,118.9 L350.0,118.6 L351.0,118.5 L352.0,118.3 L353.0,118.1 L354.0,118.0 L355.0,117.9 L356.0,117.8 L357.0,117.7 L358.0,117.7 L359.0,117.7 L360.0,117.7 L361.0,117.8 L362.0,117.8 L363.0,117.8 L364.0,117.9 L365.0,117.9 L366.0,117.9 L367.0,118.0 L368.0,118.0 L369.0,118.0 L370.0,118.0 L371.0,118.0 L372.0,118.0 L373.0,118.0 L374.0,118.0 L375.0,118.0 L376.0,118.0 L377.0,118.0 L378.0,118.1 L379.0,118.2 L380.0,118.3 L381.0,118.5 L382.0,118.7 L383.0,118.9 L384.0,119.0 L385.0,119.2 L386.0,119.4 L387.0,119.6 L388.0,119.9 L389.0,120.1 L390.0,120.5 L391.0,120.8 L392.0,121.1 L393.0,121.4 L394.0,121.7 L395.0,122.1 L396.0,122.4 L397.0,122.7 L398.0,123.1 L399.0,123.4 L400.0,123.8 L401.0,124.1 L402.0,124.4 L403.0,124.8 L404.0,125.1 L405.0,125.5 L406.0,125.8 L407.0,126.0 L408.0,126.3 L409.0,126.5 L410.0,126.6 L411.0,126.8 L412.0,127.0 L413.0,127.2 L414.0,127.4 L415.0,127.6 L416.0,127.7 L417.0,127.9 L418.0,128.1 L419.0,128.3 L420.0,128.5 L421.0,128.7 L422.0,128.9 L423.0,129.1 L424.0,129.2 L425.0,129.4 L426.0,129.6 L427.0,129.8 L428.0,130.1 L429.0,130.4 L430.0,130.7 L431.0,131.1 L432.0,131.4 L433.0,131.8 L434.0,132.1 L435.0,132.5 L436.0,132.8 L437.0,133.2 L438.0,133.5 L439.0,133.7 L440.0,133.9 L441.0,134.1 L442.0,134.3 L443.0,134.4 L444.0,134.6 L445.0,134.7 L446.0,134.9 L447.0,135.0 L448.0,135.2 L449.0,135.3 L450.0,135.4 L451.0,135.5 L452.0,135.6 L453.0,135.7 L454.0,135.7 L455.0,135.8 L456.0,135.9 L457.0,135.9 L458.0,135.9 L459.0,135.9 L460.0,135.8 L461.0,135.7 L462.0,135.6 L463.0,135.6 L464.0,135.6 L465.0,135.8 L466.0,136.0 L467.0,136.4 L468.0,136.9 L469.0,137.5 L470.0,138.0 L471.0,138.6 L472.0,139.3 L473.0,139.9 L474.0,140.6 L475.0,141.4 L476.0,142.1 L477.0,142.7 L478.0,143.4 L479.0,144.0 L480.0,144.6 L481.0,145.1 L482.0,145.7 L483.0,146.3 L484.0,146.9 L485.0,147.5 L486.0,148.1 L487.0,148.7 L488.0,149.3 L489.0,150.0 L490.0,150.6 L491.0,151.2 L492.0,151.8 L493.0,152.5 L494.0,153.1 L495.0,153.7 L496.0,154.3 L497.0,154.9 L498.0,155.5 L499.0,156.0 L500.0,156.6 L501.0,157.1 L502.0,157.6 L503.0,158.1 L504.0,158.6 L505.0,159.1 L506.0,159.6 L507.0,160.0 L508.0,160.5 L509.0,161.0 L510.0,161.4 L511.0,161.8 L512.0,162.2 L513.0,162.6 L514.0,163.0 L515.0,163.4 L516.0,163.8 L517.0,164.1 L518.0,164.5 L519.0,164.8 L520.0,165.1 L521.0,165.4 L522.0,165.8 L523.0,166.1 L524.0,166.4 L525.0,166.7 L526.0,167.1 L527.0,167.4 L528.0,167.6 L529.0,167.9 L530.0,168.2 L531.0,168.4 L532.0,168.7 L533.0,169.0 L534.0,169.2 L535.0,169.5 L536.0,169.6 L537.0,170.0" fill="none" stroke="#0000ff" stroke-width="1" shape-rendering="crispEdges"/>
<text x="10.8" y="202.7" font-family="Liberation Sans, sans-serif" font-size="9.5" fill="#000" stroke="#000" stroke-width="0.14" textLength="63" lengthAdjust="spacingAndGlyphs">#46079255 sell</text>
<clipPath id="mainclip"><rect x="5" y="5" width="603" height="260"/></clipPath><g clip-path="url(#mainclip)">
<path d="M21.5,127.2 L15.5,135.8 L21.5,133.2 Z" fill="#989898"/>
<path d="M21.5,127.2 L27.5,135.8 L21.5,133.2 Z" fill="#f6f6f6" stroke="#a8a8a8" stroke-width="0.8" stroke-linejoin="round"/>
<path d="M57.5,142.2 L51.5,150.8 L57.5,148.2 Z" fill="#989898"/>
<path d="M57.5,142.2 L63.5,150.8 L57.5,148.2 Z" fill="#f6f6f6" stroke="#a8a8a8" stroke-width="0.8" stroke-linejoin="round"/>
<path d="M89.5,153.2 L83.5,161.8 L89.5,159.2 Z" fill="#989898"/>
<path d="M89.5,153.2 L95.5,161.8 L89.5,159.2 Z" fill="#f6f6f6" stroke="#a8a8a8" stroke-width="0.8" stroke-linejoin="round"/>
<path d="M109.5,153.2 L103.5,161.8 L109.5,159.2 Z" fill="#989898"/>
<path d="M109.5,153.2 L115.5,161.8 L109.5,159.2 Z" fill="#f6f6f6" stroke="#a8a8a8" stroke-width="0.8" stroke-linejoin="round"/>
<path d="M125.5,149.79999999999998 L119.5,158.4 L125.5,155.79999999999998 Z" fill="#989898"/>
<path d="M125.5,149.79999999999998 L131.5,158.4 L125.5,155.79999999999998 Z" fill="#f6f6f6" stroke="#a8a8a8" stroke-width="0.8" stroke-linejoin="round"/>
<path d="M137.5,139.6 L131.5,148.20000000000002 L137.5,145.6 Z" fill="#989898"/>
<path d="M137.5,139.6 L143.5,148.20000000000002 L137.5,145.6 Z" fill="#f6f6f6" stroke="#a8a8a8" stroke-width="0.8" stroke-linejoin="round"/>
<path d="M173.5,115.2 L167.5,123.8 L173.5,121.2 Z" fill="#989898"/>
<path d="M173.5,115.2 L179.5,123.8 L173.5,121.2 Z" fill="#f6f6f6" stroke="#a8a8a8" stroke-width="0.8" stroke-linejoin="round"/>
<path d="M197.5,115.2 L191.5,123.8 L197.5,121.2 Z" fill="#989898"/>
<path d="M197.5,115.2 L203.5,123.8 L197.5,121.2 Z" fill="#f6f6f6" stroke="#a8a8a8" stroke-width="0.8" stroke-linejoin="round"/>
<path d="M237.5,82.2 L231.5,90.8 L237.5,88.2 Z" fill="#989898"/>
<path d="M237.5,82.2 L243.5,90.8 L237.5,88.2 Z" fill="#f6f6f6" stroke="#a8a8a8" stroke-width="0.8" stroke-linejoin="round"/>
<path d="M269.5,62.900000000000006 L263.5,71.5 L269.5,68.9 Z" fill="#989898"/>
<path d="M269.5,62.900000000000006 L275.5,71.5 L269.5,68.9 Z" fill="#f6f6f6" stroke="#a8a8a8" stroke-width="0.8" stroke-linejoin="round"/>
<path d="M289.5,56.7 L283.5,65.3 L289.5,62.7 Z" fill="#989898"/>
<path d="M289.5,56.7 L295.5,65.3 L289.5,62.7 Z" fill="#f6f6f6" stroke="#a8a8a8" stroke-width="0.8" stroke-linejoin="round"/>
<path d="M325.5,78.8 L319.5,87.39999999999999 L325.5,84.8 Z" fill="#989898"/>
<path d="M325.5,78.8 L331.5,87.39999999999999 L325.5,84.8 Z" fill="#f6f6f6" stroke="#a8a8a8" stroke-width="0.8" stroke-linejoin="round"/>
<path d="M365.5,115.2 L359.5,123.8 L365.5,121.2 Z" fill="#989898"/>
<path d="M365.5,115.2 L371.5,123.8 L365.5,121.2 Z" fill="#f6f6f6" stroke="#a8a8a8" stroke-width="0.8" stroke-linejoin="round"/>
<path d="M409.5,91.7 L403.5,100.3 L409.5,97.7 Z" fill="#989898"/>
<path d="M409.5,91.7 L415.5,100.3 L409.5,97.7 Z" fill="#f6f6f6" stroke="#a8a8a8" stroke-width="0.8" stroke-linejoin="round"/>
<path d="M453.5,177.2 L447.5,185.8 L453.5,183.2 Z" fill="#989898"/>
<path d="M453.5,177.2 L459.5,185.8 L453.5,183.2 Z" fill="#f6f6f6" stroke="#a8a8a8" stroke-width="0.8" stroke-linejoin="round"/>
<path d="M473.5,169.7 L467.5,178.3 L473.5,175.7 Z" fill="#989898"/>
<path d="M473.5,169.7 L479.5,178.3 L473.5,175.7 Z" fill="#f6f6f6" stroke="#a8a8a8" stroke-width="0.8" stroke-linejoin="round"/>
<path d="M5.5,197.9 L11.5,189.3 L5.5,191.9 Z" fill="#989898"/>
<path d="M5.5,197.9 L-0.5,189.3 L5.5,191.9 Z" fill="#f6f6f6" stroke="#a8a8a8" stroke-width="0.8" stroke-linejoin="round"/>
<path d="M29.5,192.9 L35.5,184.3 L29.5,186.9 Z" fill="#989898"/>
<path d="M29.5,192.9 L23.5,184.3 L29.5,186.9 Z" fill="#f6f6f6" stroke="#a8a8a8" stroke-width="0.8" stroke-linejoin="round"/>
<path d="M49.5,201.4 L55.5,192.8 L49.5,195.4 Z" fill="#989898"/>
<path d="M49.5,201.4 L43.5,192.8 L49.5,195.4 Z" fill="#f6f6f6" stroke="#a8a8a8" stroke-width="0.8" stroke-linejoin="round"/>
<path d="M65.5,201.9 L71.5,193.3 L65.5,195.9 Z" fill="#989898"/>
<path d="M65.5,201.9 L59.5,193.3 L65.5,195.9 Z" fill="#f6f6f6" stroke="#a8a8a8" stroke-width="0.8" stroke-linejoin="round"/>
<path d="M101.5,199.9 L107.5,191.3 L101.5,193.9 Z" fill="#989898"/>
<path d="M101.5,199.9 L95.5,191.3 L101.5,193.9 Z" fill="#f6f6f6" stroke="#a8a8a8" stroke-width="0.8" stroke-linejoin="round"/>
<path d="M117.5,193.9 L123.5,185.3 L117.5,187.9 Z" fill="#989898"/>
<path d="M117.5,193.9 L111.5,185.3 L117.5,187.9 Z" fill="#f6f6f6" stroke="#a8a8a8" stroke-width="0.8" stroke-linejoin="round"/>
<path d="M129.5,200.9 L135.5,192.3 L129.5,194.9 Z" fill="#989898"/>
<path d="M129.5,200.9 L123.5,192.3 L129.5,194.9 Z" fill="#f6f6f6" stroke="#a8a8a8" stroke-width="0.8" stroke-linejoin="round"/>
<path d="M149.5,180.9 L155.5,172.3 L149.5,174.9 Z" fill="#989898"/>
<path d="M149.5,180.9 L143.5,172.3 L149.5,174.9 Z" fill="#f6f6f6" stroke="#a8a8a8" stroke-width="0.8" stroke-linejoin="round"/>
<path d="M189.5,173.9 L195.5,165.3 L189.5,167.9 Z" fill="#989898"/>
<path d="M189.5,173.9 L183.5,165.3 L189.5,167.9 Z" fill="#f6f6f6" stroke="#a8a8a8" stroke-width="0.8" stroke-linejoin="round"/>
<path d="M213.5,187.9 L219.5,179.3 L213.5,181.9 Z" fill="#989898"/>
<path d="M213.5,187.9 L207.5,179.3 L213.5,181.9 Z" fill="#f6f6f6" stroke="#a8a8a8" stroke-width="0.8" stroke-linejoin="round"/>
<path d="M277.5,104.7 L283.5,96.1 L277.5,98.7 Z" fill="#989898"/>
<path d="M277.5,104.7 L271.5,96.1 L277.5,98.7 Z" fill="#f6f6f6" stroke="#a8a8a8" stroke-width="0.8" stroke-linejoin="round"/>
<path d="M309.5,150.9 L315.5,142.3 L309.5,144.9 Z" fill="#989898"/>
<path d="M309.5,150.9 L303.5,142.3 L309.5,144.9 Z" fill="#f6f6f6" stroke="#a8a8a8" stroke-width="0.8" stroke-linejoin="round"/>
<path d="M321.5,160.9 L327.5,152.3 L321.5,154.9 Z" fill="#989898"/>
<path d="M321.5,160.9 L315.5,152.3 L321.5,154.9 Z" fill="#f6f6f6" stroke="#a8a8a8" stroke-width="0.8" stroke-linejoin="round"/>
<path d="M345.5,164.70000000000002 L351.5,156.10000000000002 L345.5,158.70000000000002 Z" fill="#989898"/>
<path d="M345.5,164.70000000000002 L339.5,156.10000000000002 L345.5,158.70000000000002 Z" fill="#f6f6f6" stroke="#a8a8a8" stroke-width="0.8" stroke-linejoin="round"/>
<path d="M357.5,166.9 L363.5,158.3 L357.5,160.9 Z" fill="#989898"/>
<path d="M357.5,166.9 L351.5,158.3 L357.5,160.9 Z" fill="#f6f6f6" stroke="#a8a8a8" stroke-width="0.8" stroke-linejoin="round"/>
<path d="M381.5,180.9 L387.5,172.3 L381.5,174.9 Z" fill="#989898"/>
<path d="M381.5,180.9 L375.5,172.3 L381.5,174.9 Z" fill="#f6f6f6" stroke="#a8a8a8" stroke-width="0.8" stroke-linejoin="round"/>
<path d="M397.5,180.4 L403.5,171.8 L397.5,174.4 Z" fill="#989898"/>
<path d="M397.5,180.4 L391.5,171.8 L397.5,174.4 Z" fill="#f6f6f6" stroke="#a8a8a8" stroke-width="0.8" stroke-linejoin="round"/>
<path d="M417.5,217.6 L423.5,209.0 L417.5,211.6 Z" fill="#989898"/>
<path d="M417.5,217.6 L411.5,209.0 L417.5,211.6 Z" fill="#f6f6f6" stroke="#a8a8a8" stroke-width="0.8" stroke-linejoin="round"/>
<path d="M449.5,218.4 L455.5,209.8 L449.5,212.4 Z" fill="#989898"/>
<path d="M449.5,218.4 L443.5,209.8 L449.5,212.4 Z" fill="#f6f6f6" stroke="#a8a8a8" stroke-width="0.8" stroke-linejoin="round"/>
<path d="M461.5,215.9 L467.5,207.3 L461.5,209.9 Z" fill="#989898"/>
<path d="M461.5,215.9 L455.5,207.3 L461.5,209.9 Z" fill="#f6f6f6" stroke="#a8a8a8" stroke-width="0.8" stroke-linejoin="round"/>
</g>
<rect x="412.6" y="208.4" width="61.2" height="2.2" fill="#b22222"/>
<text x="414.5" y="232.3" font-family="Liberation Sans, sans-serif" font-size="14" fill="#b03030" textLength="69.2" lengthAdjust="spacingAndGlyphs">break down</text>
<path d="M494.8,205.5 L496,199 L509.4,155.4 L527,205 L549.3,257" fill="none" stroke="#7a1414" stroke-width="1" stroke-dasharray="3.2,3.2" shape-rendering="crispEdges"/>
<g shape-rendering="crispEdges">
<clipPath id="aoclip"><rect x="5" y="268" width="603" height="38"/></clipPath>
</g>
<rect x="408.3" y="291.2" width="21" height="20" rx="6" ry="6" fill="#ffff00" clip-path="url(#aoclip)"/>
<g shape-rendering="crispEdges">
<rect x="4" y="288" width="3" height="6" fill="#006400"/>
<rect x="8" y="288" width="3" height="5" fill="#006400"/>
<rect x="12" y="288" width="3" height="5" fill="#006400"/>
<rect x="16" y="288" width="3" height="4" fill="#006400"/>
<rect x="20" y="288" width="3" height="3" fill="#006400"/>
<rect x="24" y="287" width="3" height="1" fill="#006400"/>
<rect x="28" y="286" width="3" height="2" fill="#006400"/>
<rect x="32" y="286" width="3" height="2" fill="#006400"/>
<rect x="36" y="286" width="3" height="2" fill="#006400"/>
<rect x="40" y="286" width="3" height="2" fill="#d26b22"/>
<rect x="44" y="287" width="3" height="1" fill="#d26b22"/>
<rect x="48" y="287" width="3" height="1" fill="#006400"/>
<rect x="52" y="287" width="3" height="1" fill="#d26b22"/>
<rect x="56" y="287" width="3" height="1" fill="#d26b22"/>
<rect x="60" y="288" width="3" height="1" fill="#d26b22"/>
<rect x="64" y="288" width="3" height="1" fill="#d26b22"/>
<rect x="68" y="288" width="3" height="1" fill="#d26b22"/>
<rect x="72" y="288" width="3" height="2" fill="#d26b22"/>
<rect x="76" y="288" width="3" height="2" fill="#d26b22"/>
<rect x="80" y="288" width="3" height="1" fill="#006400"/>
<rect x="84" y="287" width="3" height="1" fill="#006400"/>
<rect x="88" y="286" width="3" height="2" fill="#006400"/>
<rect x="92" y="286" width="3" height="2" fill="#d26b22"/>
<rect x="96" y="287" width="3" height="1" fill="#d26b22"/>
<rect x="100" y="288" width="3" height="1" fill="#d26b22"/>
<rect x="104" y="288" width="3" height="1" fill="#d26b22"/>
<rect x="108" y="288" width="3" height="2" fill="#d26b22"/>
<rect x="112" y="288" width="3" height="2" fill="#d26b22"/>
<rect x="116" y="288" width="3" height="2" fill="#d26b22"/>
<rect x="120" y="288" width="3" height="2" fill="#006400"/>
<rect x="124" y="288" width="3" height="2" fill="#006400"/>
<rect x="128" y="288" width="3" height="2" fill="#d26b22"/>
<rect x="132" y="288" width="3" height="2" fill="#006400"/>
<rect x="136" y="288" width="3" height="1" fill="#006400"/>
<rect x="140" y="287" width="3" height="1" fill="#006400"/>
<rect x="144" y="287" width="3" height="1" fill="#006400"/>
<rect x="148" y="286" width="3" height="2" fill="#006400"/>
<rect x="152" y="285" width="3" height="3" fill="#006400"/>
<rect x="156" y="284" width="3" height="4" fill="#006400"/>
<rect x="160" y="284" width="3" height="4" fill="#006400"/>
<rect x="164" y="284" width="3" height="4" fill="#006400"/>
<rect x="168" y="283" width="3" height="5" fill="#006400"/>
<rect x="172" y="282" width="3" height="6" fill="#006400"/>
<rect x="176" y="281" width="3" height="7" fill="#006400"/>
<rect x="180" y="280" width="3" height="8" fill="#006400"/>
<rect x="184" y="280" width="3" height="8" fill="#d26b22"/>
<rect x="188" y="281" width="3" height="7" fill="#d26b22"/>
<rect x="192" y="282" width="3" height="6" fill="#d26b22"/>
<rect x="196" y="282" width="3" height="6" fill="#d26b22"/>
<rect x="200" y="282" width="3" height="6" fill="#006400"/>
<rect x="204" y="282" width="3" height="6" fill="#006400"/>
<rect x="208" y="283" width="3" height="5" fill="#d26b22"/>
<rect x="212" y="284" width="3" height="4" fill="#d26b22"/>
<rect x="216" y="285" width="3" height="3" fill="#d26b22"/>
<rect x="220" y="286" width="3" height="2" fill="#d26b22"/>
<rect x="224" y="285" width="3" height="3" fill="#006400"/>
<rect x="228" y="283" width="3" height="5" fill="#006400"/>
<rect x="232" y="280" width="3" height="8" fill="#006400"/>
<rect x="236" y="278" width="3" height="10" fill="#006400"/>
<rect x="240" y="275" width="3" height="13" fill="#006400"/>
<rect x="244" y="273" width="3" height="15" fill="#006400"/>
<rect x="248" y="273" width="3" height="15" fill="#006400"/>
<rect x="252" y="272" width="3" height="16" fill="#006400"/>
<rect x="256" y="271" width="3" height="17" fill="#006400"/>
<rect x="260" y="271" width="3" height="17" fill="#006400"/>
<rect x="264" y="270" width="3" height="18" fill="#006400"/>
<rect x="268" y="270" width="3" height="18" fill="#d26b22"/>
<rect x="272" y="271" width="3" height="17" fill="#d26b22"/>
<rect x="276" y="271" width="3" height="17" fill="#d26b22"/>
<rect x="280" y="272" width="3" height="16" fill="#d26b22"/>
<rect x="284" y="272" width="3" height="16" fill="#d26b22"/>
<rect x="288" y="273" width="3" height="15" fill="#d26b22"/>
<rect x="292" y="274" width="3" height="14" fill="#d26b22"/>
<rect x="296" y="275" width="3" height="13" fill="#d26b22"/>
<rect x="300" y="277" width="3" height="11" fill="#d26b22"/>
<rect x="304" y="280" width="3" height="8" fill="#d26b22"/>
<rect x="308" y="283" width="3" height="5" fill="#d26b22"/>
<rect x="312" y="286" width="3" height="2" fill="#d26b22"/>
<rect x="316" y="288" width="3" height="1" fill="#d26b22"/>
<rect x="320" y="288" width="3" height="2" fill="#d26b22"/>
<rect x="324" y="288" width="3" height="3" fill="#d26b22"/>
<rect x="328" y="288" width="3" height="4" fill="#d26b22"/>
<rect x="332" y="288" width="3" height="5" fill="#d26b22"/>
<rect x="336" y="288" width="3" height="6" fill="#d26b22"/>
<rect x="340" y="288" width="3" height="8" fill="#d26b22"/>
<rect x="344" y="288" width="3" height="11" fill="#d26b22"/>
<rect x="348" y="288" width="3" height="12" fill="#d26b22"/>
<rect x="352" y="288" width="3" height="13" fill="#d26b22"/>
<rect x="356" y="288" width="3" height="13" fill="#d26b22"/>
<rect x="360" y="288" width="3" height="13" fill="#006400"/>
<rect x="364" y="288" width="3" height="12" fill="#006400"/>
<rect x="368" y="288" width="3" height="12" fill="#006400"/>
<rect x="372" y="288" width="3" height="11" fill="#006400"/>
<rect x="376" y="288" width="3" height="11" fill="#006400"/>
<rect x="380" y="288" width="3" height="12" fill="#d26b22"/>
<rect x="384" y="288" width="3" height="12" fill="#d26b22"/>
<rect x="388" y="288" width="3" height="12" fill="#d26b22"/>
<rect x="392" y="288" width="3" height="12" fill="#006400"/>
<rect x="396" y="288" width="3" height="12" fill="#006400"/>
<rect x="400" y="288" width="3" height="10" fill="#006400"/>
<rect x="404" y="288" width="3" height="8" fill="#006400"/>
<rect x="408" y="288" width="3" height="5" fill="#006400"/>
<rect x="412" y="288" width="3" height="4" fill="#006400"/>
<rect x="416" y="288" width="3" height="5" fill="#d26b22"/>
<rect x="420" y="288" width="3" height="7" fill="#d26b22"/>
<rect x="424" y="288" width="3" height="9" fill="#d26b22"/>
<rect x="428" y="288" width="3" height="12" fill="#d26b22"/>
<rect x="432" y="288" width="3" height="16" fill="#d26b22"/>
<rect x="436" y="288" width="3" height="17" fill="#d26b22"/>
<rect x="440" y="288" width="3" height="16" fill="#006400"/>
<rect x="444" y="288" width="3" height="16" fill="#d26b22"/>
<rect x="448" y="288" width="3" height="16" fill="#006400"/>
<rect x="452" y="288" width="3" height="16" fill="#006400"/>
<rect x="456" y="288" width="3" height="15" fill="#006400"/>
<rect x="460" y="288" width="3" height="13" fill="#006400"/>
<rect x="464" y="288" width="3" height="12" fill="#006400"/>
<rect x="468" y="288" width="3" height="11" fill="#006400"/>
<rect x="472" y="288" width="3" height="10" fill="#006400"/>
<rect x="476" y="288" width="3" height="9" fill="#006400"/>
<rect x="480" y="288" width="3" height="8" fill="#006400"/>
<rect x="484" y="288" width="3" height="7" fill="#006400"/>
<rect x="4" y="318" width="3" height="9" fill="#dc143c"/>
<rect x="8" y="322" width="3" height="5" fill="#dc143c"/>
<rect x="12" y="323" width="3" height="4" fill="#dc143c"/>
<rect x="16" y="323" width="3" height="4" fill="#dc143c"/>
<rect x="20" y="321" width="3" height="6" fill="#008000"/>
<rect x="24" y="318" width="3" height="9" fill="#008000"/>
<rect x="28" y="320" width="3" height="7" fill="#dc143c"/>
<rect x="32" y="321" width="3" height="6" fill="#dc143c"/>
<rect x="36" y="323" width="3" height="4" fill="#dc143c"/>
<rect x="40" y="326" width="3" height="1" fill="#dc143c"/>
<rect x="44" y="327" width="3" height="3" fill="#dc143c"/>
<rect x="48" y="327" width="3" height="3" fill="#008000"/>
<rect x="52" y="327" width="3" height="2" fill="#008000"/>
<rect x="56" y="327" width="3" height="2" fill="#008000"/>
<rect x="60" y="327" width="3" height="3" fill="#dc143c"/>
<rect x="64" y="327" width="3" height="3" fill="#dc143c"/>
<rect x="68" y="327" width="3" height="3" fill="#008000"/>
<rect x="72" y="327" width="3" height="2" fill="#008000"/>
<rect x="76" y="327" width="3" height="2" fill="#008000"/>
<rect x="80" y="325" width="3" height="2" fill="#008000"/>
<rect x="84" y="323" width="3" height="4" fill="#008000"/>
<rect x="88" y="323" width="3" height="4" fill="#008000"/>
<rect x="92" y="324" width="3" height="3" fill="#dc143c"/>
<rect x="96" y="327" width="3" height="1" fill="#dc143c"/>
<rect x="100" y="327" width="3" height="3" fill="#dc143c"/>
<rect x="104" y="327" width="3" height="5" fill="#dc143c"/>
<rect x="108" y="327" width="3" height="5" fill="#008000"/>
<rect x="112" y="327" width="3" height="4" fill="#008000"/>
<rect x="116" y="327" width="3" height="3" fill="#008000"/>
<rect x="120" y="327" width="3" height="1" fill="#008000"/>
<rect x="124" y="325" width="3" height="2" fill="#008000"/>
<rect x="128" y="326" width="3" height="1" fill="#dc143c"/>
<rect x="132" y="326" width="3" height="1" fill="#008000"/>
<rect x="136" y="325" width="3" height="2" fill="#008000"/>
<rect x="140" y="323" width="3" height="4" fill="#008000"/>
<rect x="144" y="323" width="3" height="4" fill="#dc143c"/>
<rect x="148" y="322" width="3" height="5" fill="#008000"/>
<rect x="152" y="322" width="3" height="5" fill="#008000"/>
<rect x="156" y="323" width="3" height="4" fill="#dc143c"/>
<rect x="160" y="324" width="3" height="3" fill="#dc143c"/>
<rect x="164" y="325" width="3" height="2" fill="#dc143c"/>
<rect x="168" y="323" width="3" height="4" fill="#008000"/>
<rect x="172" y="322" width="3" height="5" fill="#008000"/>
<rect x="176" y="321" width="3" height="6" fill="#008000"/>
<rect x="180" y="323" width="3" height="4" fill="#dc143c"/>
<rect x="184" y="325" width="3" height="2" fill="#dc143c"/>
<rect x="188" y="327" width="3" height="2" fill="#dc143c"/>
<rect x="192" y="327" width="3" height="4" fill="#dc143c"/>
<rect x="196" y="327" width="3" height="4" fill="#008000"/>
<rect x="200" y="327" width="3" height="3" fill="#008000"/>
<rect x="204" y="327" width="3" height="1" fill="#008000"/>
<rect x="208" y="327" width="3" height="2" fill="#dc143c"/>
<rect x="212" y="327" width="3" height="4" fill="#dc143c"/>
<rect x="216" y="327" width="3" height="5" fill="#dc143c"/>
<rect x="220" y="327" width="3" height="7" fill="#dc143c"/>
<rect x="224" y="327" width="3" height="3" fill="#008000"/>
<rect x="228" y="322" width="3" height="5" fill="#008000"/>
<rect x="232" y="317" width="3" height="10" fill="#008000"/>
<rect x="236" y="313" width="3" height="14" fill="#008000"/>
<rect x="240" y="311" width="3" height="16" fill="#008000"/>
<rect x="244" y="314" width="3" height="13" fill="#dc143c"/>
<rect x="248" y="318" width="3" height="9" fill="#dc143c"/>
<rect x="252" y="320" width="3" height="7" fill="#dc143c"/>
<rect x="256" y="323" width="3" height="4" fill="#dc143c"/>
<rect x="260" y="323" width="3" height="4" fill="#dc143c"/>
<rect x="264" y="324" width="3" height="3" fill="#dc143c"/>
<rect x="268" y="325" width="3" height="2" fill="#dc143c"/>
<rect x="272" y="326" width="3" height="1" fill="#dc143c"/>
<rect x="276" y="327" width="3" height="2" fill="#dc143c"/>
<rect x="280" y="327" width="3" height="3" fill="#dc143c"/>
<rect x="284" y="327" width="3" height="3" fill="#dc143c"/>
<rect x="288" y="327" width="3" height="4" fill="#dc143c"/>
<rect x="292" y="327" width="3" height="5" fill="#dc143c"/>
<rect x="296" y="327" width="3" height="7" fill="#dc143c"/>
<rect x="300" y="327" width="3" height="9" fill="#dc143c"/>
<rect x="304" y="327" width="3" height="12" fill="#dc143c"/>
<rect x="308" y="327" width="3" height="16" fill="#dc143c"/>
<rect x="312" y="327" width="3" height="17" fill="#dc143c"/>
<rect x="316" y="327" width="3" height="15" fill="#008000"/>
<rect x="320" y="327" width="3" height="13" fill="#008000"/>
<rect x="324" y="327" width="3" height="9" fill="#008000"/>
<rect x="328" y="327" width="3" height="7" fill="#008000"/>
<rect x="332" y="327" width="3" height="6" fill="#008000"/>
<rect x="336" y="327" width="3" height="7" fill="#dc143c"/>
<rect x="340" y="327" width="3" height="9" fill="#dc143c"/>
<rect x="344" y="327" width="3" height="12" fill="#dc143c"/>
<rect x="348" y="327" width="3" height="11" fill="#008000"/>
<rect x="352" y="327" width="3" height="9" fill="#008000"/>
<rect x="356" y="327" width="3" height="7" fill="#008000"/>
<rect x="360" y="327" width="3" height="3" fill="#008000"/>
<rect x="364" y="326" width="3" height="1" fill="#008000"/>
<rect x="368" y="324" width="3" height="3" fill="#008000"/>
<rect x="372" y="324" width="3" height="3" fill="#008000"/>
<rect x="376" y="324" width="3" height="3" fill="#dc143c"/>
<rect x="380" y="327" width="3" height="1" fill="#dc143c"/>
<rect x="384" y="327" width="3" height="2" fill="#dc143c"/>
<rect x="388" y="327" width="3" height="2" fill="#008000"/>
<rect x="392" y="327" width="3" height="1" fill="#008000"/>
<rect x="396" y="326" width="3" height="1" fill="#008000"/>
<rect x="400" y="323" width="3" height="4" fill="#008000"/>
<rect x="404" y="319" width="3" height="8" fill="#008000"/>
<rect x="408" y="315" width="3" height="12" fill="#008000"/>
<rect x="412" y="316" width="3" height="11" fill="#dc143c"/>
<rect x="416" y="321" width="3" height="6" fill="#dc143c"/>
<rect x="420" y="327" width="3" height="3" fill="#dc143c"/>
<rect x="424" y="327" width="3" height="10" fill="#dc143c"/>
<rect x="428" y="327" width="3" height="17" fill="#dc143c"/>
<rect x="432" y="327" width="3" height="19" fill="#dc143c"/>
<rect x="436" y="327" width="3" height="13" fill="#008000"/>
<rect x="440" y="327" width="3" height="6" fill="#008000"/>
<rect x="444" y="327" width="3" height="2" fill="#008000"/>
<rect x="448" y="326" width="3" height="1" fill="#008000"/>
<rect x="452" y="325" width="3" height="2" fill="#008000"/>
<rect x="456" y="323" width="3" height="4" fill="#008000"/>
<rect x="460" y="322" width="3" height="5" fill="#008000"/>
<rect x="464" y="321" width="3" height="6" fill="#008000"/>
<rect x="468" y="320" width="3" height="7" fill="#008000"/>
<rect x="472" y="320" width="3" height="7" fill="#dc143c"/>
<rect x="476" y="321" width="3" height="6" fill="#dc143c"/>
<rect x="480" y="321" width="3" height="6" fill="#dc143c"/>
<rect x="484" y="322" width="3" height="5" fill="#dc143c"/>
<rect x="5" y="371" width="1" height="12" fill="#00008b"/>
<rect x="8" y="377" width="3" height="6" fill="#b8860b"/>
<rect x="12" y="371" width="3" height="12" fill="#2e8b57"/>
<rect x="15" y="374" width="4" height="9" fill="#dc143c"/>
<rect x="21" y="368" width="1" height="15" fill="#00008b"/>
<rect x="23" y="377" width="4" height="6" fill="#dc143c"/>
<rect x="29" y="372" width="1" height="11" fill="#00008b"/>
<rect x="31" y="374" width="4" height="9" fill="#dc143c"/>
<rect x="37" y="375" width="1" height="8" fill="#00008b"/>
<rect x="40" y="376" width="3" height="7" fill="#b8860b"/>
<rect x="44" y="377" width="3" height="6" fill="#b8860b"/>
<rect x="49" y="371" width="1" height="12" fill="#00008b"/>
<rect x="52" y="373" width="3" height="10" fill="#b8860b"/>
<rect x="57" y="354" width="1" height="29" fill="#00008b"/>
<rect x="60" y="371" width="3" height="12" fill="#b8860b"/>
<rect x="63" y="377" width="4" height="6" fill="#dc143c"/>
<rect x="69" y="370" width="1" height="13" fill="#00008b"/>
<rect x="71" y="374" width="4" height="9" fill="#dc143c"/>
<rect x="76" y="378" width="3" height="5" fill="#b8860b"/>
<rect x="81" y="378" width="1" height="5" fill="#00008b"/>
<rect x="85" y="369" width="1" height="14" fill="#00008b"/>
<rect x="87" y="378" width="4" height="5" fill="#dc143c"/>
<rect x="92" y="377" width="3" height="6" fill="#2e8b57"/>
<rect x="96" y="378" width="3" height="5" fill="#b8860b"/>
<rect x="101" y="369" width="1" height="14" fill="#00008b"/>
<rect x="104" y="372" width="3" height="11" fill="#b8860b"/>
<rect x="107" y="372" width="4" height="11" fill="#dc143c"/>
<rect x="113" y="370" width="1" height="13" fill="#00008b"/>
<rect x="117" y="369" width="1" height="14" fill="#00008b"/>
<rect x="120" y="376" width="3" height="7" fill="#b8860b"/>
<rect x="124" y="371" width="3" height="12" fill="#2e8b57"/>
<rect x="128" y="370" width="3" height="13" fill="#2e8b57"/>
<rect x="132" y="374" width="3" height="9" fill="#b8860b"/>
<rect x="137" y="364" width="1" height="19" fill="#00008b"/>
<rect x="139" y="372" width="4" height="11" fill="#dc143c"/>
<rect x="144" y="373" width="3" height="10" fill="#b8860b"/>
<rect x="147" y="375" width="4" height="8" fill="#dc143c"/>
<rect x="153" y="375" width="1" height="8" fill="#00008b"/>
<rect x="155" y="376" width="4" height="7" fill="#dc143c"/>
<rect x="161" y="373" width="1" height="10" fill="#00008b"/>
<rect x="164" y="372" width="3" height="11" fill="#2e8b57"/>
<rect x="168" y="371" width="3" height="12" fill="#2e8b57"/>
<rect x="173" y="367" width="1" height="16" fill="#00008b"/>
<rect x="176" y="372" width="3" height="11" fill="#b8860b"/>
<rect x="180" y="369" width="3" height="14" fill="#2e8b57"/>
<rect x="183" y="375" width="4" height="8" fill="#dc143c"/>
<rect x="189" y="370" width="1" height="13" fill="#00008b"/>
<rect x="191" y="376" width="4" height="7" fill="#dc143c"/>
<rect x="197" y="373" width="1" height="10" fill="#00008b"/>
<rect x="200" y="377" width="3" height="6" fill="#b8860b"/>
<rect x="204" y="377" width="3" height="6" fill="#2e8b57"/>
<rect x="208" y="376" width="3" height="7" fill="#2e8b57"/>
<rect x="213" y="369" width="1" height="14" fill="#00008b"/>
<rect x="215" y="375" width="4" height="8" fill="#dc143c"/>
<rect x="220" y="373" width="3" height="10" fill="#2e8b57"/>
<rect x="224" y="371" width="3" height="12" fill="#2e8b57"/>
<rect x="228" y="371" width="3" height="12" fill="#b8860b"/>
<rect x="231" y="376" width="4" height="7" fill="#dc143c"/>
<rect x="236" y="375" width="3" height="8" fill="#2e8b57"/>
<rect x="241" y="375" width="1" height="8" fill="#00008b"/>
<rect x="244" y="373" width="3" height="10" fill="#2e8b57"/>
<rect x="247" y="377" width="4" height="6" fill="#dc143c"/>
<rect x="253" y="377" width="1" height="6" fill="#00008b"/>
<rect x="257" y="377" width="1" height="6" fill="#00008b"/>
<rect x="260" y="372" width="3" height="11" fill="#2e8b57"/>
<rect x="264" y="374" width="3" height="9" fill="#b8860b"/>
<rect x="267" y="377" width="4" height="6" fill="#dc143c"/>
<rect x="273" y="373" width="1" height="10" fill="#00008b"/>
<rect x="276" y="370" width="3" height="13" fill="#2e8b57"/>
<rect x="280" y="372" width="3" height="11" fill="#b8860b"/>
<rect x="283" y="377" width="4" height="6" fill="#dc143c"/>
<rect x="288" y="374" width="3" height="9" fill="#2e8b57"/>
<rect x="292" y="372" width="3" height="11" fill="#2e8b57"/>
<rect x="297" y="371" width="1" height="12" fill="#00008b"/>
<rect x="300" y="372" width="3" height="11" fill="#b8860b"/>
<rect x="304" y="367" width="3" height="16" fill="#2e8b57"/>
<rect x="307" y="375" width="4" height="8" fill="#dc143c"/>
<rect x="311" y="377" width="4" height="6" fill="#dc143c"/>
<rect x="317" y="377" width="1" height="6" fill="#00008b"/>
<rect x="320" y="372" width="3" height="11" fill="#2e8b57"/>
<rect x="325" y="372" width="1" height="11" fill="#00008b"/>
<rect x="328" y="374" width="3" height="9" fill="#b8860b"/>
<rect x="331" y="375" width="4" height="8" fill="#dc143c"/>
<rect x="337" y="376" width="1" height="7" fill="#00008b"/>
<rect x="341" y="376" width="1" height="7" fill="#00008b"/>
<rect x="343" y="380" width="4" height="3" fill="#dc143c"/>
<rect x="348" y="380" width="3" height="3" fill="#b8860b"/>
<rect x="353" y="375" width="1" height="8" fill="#00008b"/>
<rect x="357" y="369" width="1" height="14" fill="#00008b"/>
<rect x="360" y="367" width="3" height="16" fill="#2e8b57"/>
<rect x="363" y="370" width="4" height="13" fill="#dc143c"/>
<rect x="368" y="376" width="3" height="7" fill="#b8860b"/>
<rect x="372" y="369" width="3" height="14" fill="#2e8b57"/>
<rect x="376" y="374" width="3" height="9" fill="#b8860b"/>
<rect x="379" y="375" width="4" height="8" fill="#dc143c"/>
<rect x="385" y="372" width="1" height="11" fill="#00008b"/>
<rect x="389" y="372" width="1" height="11" fill="#00008b"/>
<rect x="392" y="374" width="3" height="9" fill="#b8860b"/>
<rect x="396" y="369" width="3" height="14" fill="#2e8b57"/>
<rect x="399" y="370" width="4" height="13" fill="#dc143c"/>
<rect x="403" y="372" width="4" height="11" fill="#dc143c"/>
<rect x="407" y="378" width="4" height="5" fill="#dc143c"/>
<rect x="413" y="374" width="1" height="9" fill="#00008b"/>
<rect x="416" y="371" width="3" height="12" fill="#2e8b57"/>
<rect x="420" y="377" width="3" height="6" fill="#b8860b"/>
<rect x="424" y="379" width="3" height="4" fill="#b8860b"/>
<rect x="429" y="376" width="1" height="7" fill="#00008b"/>
<rect x="432" y="372" width="3" height="11" fill="#2e8b57"/>
<rect x="436" y="373" width="3" height="10" fill="#b8860b"/>
<rect x="439" y="378" width="4" height="5" fill="#dc143c"/>
<rect x="445" y="379" width="1" height="4" fill="#00008b"/>
<rect x="449" y="379" width="1" height="4" fill="#00008b"/>
<rect x="453" y="372" width="1" height="11" fill="#00008b"/>
<rect x="455" y="375" width="4" height="8" fill="#dc143c"/>
<rect x="460" y="375" width="3" height="8" fill="#2e8b57"/>
<rect x="465" y="366" width="1" height="17" fill="#00008b"/>
<rect x="467" y="374" width="4" height="9" fill="#dc143c"/>
<rect x="471" y="377" width="4" height="6" fill="#dc143c"/>
<rect x="477" y="373" width="1" height="10" fill="#00008b"/>
<rect x="479" y="374" width="4" height="9" fill="#dc143c"/>
<rect x="485" y="359" width="1" height="24" fill="#00008b"/>
</g>
<path d="M396.5,5 L406.5,5 L401.5,10 Z" fill="#708090"/>
<path d="M5,378 L10,383 L5,383 Z" fill="#8a96a2"/>
<rect x="474" y="269.3" width="34.8" height="79.4" rx="5.5" ry="5.5" fill="#787878" fill-opacity="0.245"/>
<text x="400.9" y="283.5" font-family="Liberation Sans, sans-serif" font-size="13.33" fill="#5d6b45" textLength="40.3" lengthAdjust="spacingAndGlyphs">saucer</text>
<g shape-rendering="crispEdges" fill="#000">
<rect x="4" y="4" width="605" height="1"/>
<rect x="4" y="265" width="605" height="1"/>
<rect x="4" y="4" width="1" height="262"/>
<rect x="608" y="4" width="1" height="262"/>
<rect x="4" y="267" width="605" height="1"/>
<rect x="4" y="306" width="605" height="1"/>
<rect x="4" y="267" width="1" height="40"/>
<rect x="608" y="267" width="1" height="40"/>
<rect x="4" y="308" width="605" height="1"/>
<rect x="4" y="347" width="605" height="1"/>
<rect x="4" y="308" width="1" height="40"/>
<rect x="608" y="308" width="1" height="40"/>
<rect x="4" y="349" width="605" height="1"/>
<rect x="4" y="383" width="605" height="1"/>
<rect x="4" y="349" width="1" height="35"/>
<rect x="608" y="349" width="1" height="35"/>
<rect x="609" y="6" width="2" height="1"/>
<rect x="609" y="43" width="2" height="1"/>
<rect x="609" y="76" width="2" height="1"/>
<rect x="609" y="113" width="2" height="1"/>
<rect x="609" y="150" width="2" height="1"/>
<rect x="609" y="221" width="2" height="1"/>
<rect x="609" y="259" width="2" height="1"/>
<rect x="609" y="288" width="2" height="1"/>
<rect x="609" y="327" width="2" height="1"/>
<rect x="609" y="269" width="1" height="1"/>
<rect x="609" y="305" width="1" height="1"/>
<rect x="609" y="310" width="1" height="1"/>
<rect x="609" y="346" width="1" height="1"/>
<rect x="609" y="351" width="1" height="1"/>
<rect x="609" y="382" width="1" height="1"/>
<rect x="5" y="384" width="1" height="3"/>
<rect x="69" y="384" width="1" height="3"/>
<rect x="133" y="384" width="1" height="3"/>
<rect x="197" y="384" width="1" height="3"/>
<rect x="261" y="384" width="1" height="3"/>
<rect x="325" y="384" width="1" height="3"/>
<rect x="389" y="384" width="1" height="3"/>
<rect x="453" y="384" width="1" height="3"/>
<rect x="610" y="181" width="33" height="10" />
<path d="M608,186.5 L610,184 L610,189 Z"/>
</g>
<text x="9.4" y="15.6" font-family="Liberation Sans, sans-serif" font-size="9.6" fill="#000" stroke="#000" stroke-width="0.14" textLength="58.2" lengthAdjust="spacingAndGlyphs">USDCAD-,H1</text>
<text x="74.4" y="15.6" font-family="Liberation Sans, sans-serif" font-size="9.6" fill="#000" stroke="#000" stroke-width="0.14" textLength="120" lengthAdjust="spacingAndGlyphs">1.0303 1.0314 1.0303 1.0313</text>
<text x="614.4" y="9.4" font-family="Liberation Sans, sans-serif" font-size="9.5" fill="#000" stroke="#000" stroke-width="0.14" textLength="27.4" lengthAdjust="spacingAndGlyphs">1.0480</text>
<text x="614.4" y="46.4" font-family="Liberation Sans, sans-serif" font-size="9.5" fill="#000" stroke="#000" stroke-width="0.14" textLength="27.4" lengthAdjust="spacingAndGlyphs">1.0445</text>
<text x="614.4" y="79.4" font-family="Liberation Sans, sans-serif" font-size="9.5" fill="#000" stroke="#000" stroke-width="0.14" textLength="27.4" lengthAdjust="spacingAndGlyphs">1.0415</text>
<text x="614.4" y="116.4" font-family="Liberation Sans, sans-serif" font-size="9.5" fill="#000" stroke="#000" stroke-width="0.14" textLength="27.4" lengthAdjust="spacingAndGlyphs">1.0380</text>
<text x="614.4" y="153.4" font-family="Liberation Sans, sans-serif" font-size="9.5" fill="#000" stroke="#000" stroke-width="0.14" textLength="27.4" lengthAdjust="spacingAndGlyphs">1.0345</text>
<text x="614.4" y="224.4" font-family="Liberation Sans, sans-serif" font-size="9.5" fill="#000" stroke="#000" stroke-width="0.14" textLength="27.4" lengthAdjust="spacingAndGlyphs">1.0280</text>
<text x="614.4" y="262.4" font-family="Liberation Sans, sans-serif" font-size="9.5" fill="#000" stroke="#000" stroke-width="0.14" textLength="27.4" lengthAdjust="spacingAndGlyphs">1.0245</text>
<text x="614.6" y="189.4" font-family="Liberation Sans, sans-serif" font-size="9.5" fill="#fff" stroke="#fff" stroke-width="0.14" textLength="27.4" lengthAdjust="spacingAndGlyphs">1.0313</text>
<text x="612" y="277.4" font-family="Liberation Sans, sans-serif" font-size="9.5" fill="#000" stroke="#000" stroke-width="0.14" textLength="32.6" lengthAdjust="spacingAndGlyphs">0.00506</text>
<text x="612" y="290.7" font-family="Liberation Sans, sans-serif" font-size="9.5" fill="#000" stroke="#000" stroke-width="0.14" textLength="16.5" lengthAdjust="spacingAndGlyphs">0.00</text>
<text x="612.2" y="303" font-family="Liberation Sans, sans-serif" font-size="9.5" fill="#000" stroke="#000" stroke-width="0.14" textLength="35.6" lengthAdjust="spacingAndGlyphs">-0.00476</text>
<text x="612" y="318.9" font-family="Liberation Sans, sans-serif" font-size="9.5" fill="#000" stroke="#000" stroke-width="0.14" textLength="37.6" lengthAdjust="spacingAndGlyphs">0.001597</text>
<text x="612" y="330" font-family="Liberation Sans, sans-serif" font-size="9.5" fill="#000" stroke="#000" stroke-width="0.14" textLength="16.5" lengthAdjust="spacingAndGlyphs">0.00</text>
<text x="612.2" y="343.4" font-family="Liberation Sans, sans-serif" font-size="9.5" fill="#000" stroke="#000" stroke-width="0.14" textLength="35.6" lengthAdjust="spacingAndGlyphs">-0.00182</text>
<text x="612" y="359.7" font-family="Liberation Sans, sans-serif" font-size="9.5" fill="#000" stroke="#000" stroke-width="0.14" textLength="27.5" lengthAdjust="spacingAndGlyphs">0.1698</text>
<text x="612" y="379.8" font-family="Liberation Sans, sans-serif" font-size="9.5" fill="#000" stroke="#000" stroke-width="0.14" textLength="5" lengthAdjust="spacingAndGlyphs">0</text>
<text x="10" y="280.9" font-family="Liberation Sans, sans-serif" font-size="9.5" fill="#000" stroke="#000" stroke-width="0.14" textLength="52.7" lengthAdjust="spacingAndGlyphs">AO -0.00176</text>
<text x="10" y="322.1" font-family="Liberation Sans, sans-serif" font-size="9.5" fill="#000" stroke="#000" stroke-width="0.14" textLength="53.4" lengthAdjust="spacingAndGlyphs">AC 0.000482</text>
<text x="9.5" y="363.1" font-family="Liberation Sans, sans-serif" font-size="9.5" fill="#000" stroke="#000" stroke-width="0.14" textLength="65.5" lengthAdjust="spacingAndGlyphs">BW MFI 0.1358</text>
<text x="4" y="396.6" font-family="Liberation Sans, sans-serif" font-size="9.5" fill="#000" stroke="#000" stroke-width="0.14" textLength="54.6" lengthAdjust="spacingAndGlyphs">24 May 2013</text>
<text x="68" y="396.6" font-family="Liberation Sans, sans-serif" font-size="9.5" fill="#000" stroke="#000" stroke-width="0.14" textLength="58" lengthAdjust="spacingAndGlyphs">27 May 01:00</text>
<text x="132" y="396.6" font-family="Liberation Sans, sans-serif" font-size="9.5" fill="#000" stroke="#000" stroke-width="0.14" textLength="58" lengthAdjust="spacingAndGlyphs">27 May 17:00</text>
<text x="196" y="396.6" font-family="Liberation Sans, sans-serif" font-size="9.5" fill="#000" stroke="#000" stroke-width="0.14" textLength="58" lengthAdjust="spacingAndGlyphs">28 May 09:00</text>
<text x="260" y="396.6" font-family="Liberation Sans, sans-serif" font-size="9.5" fill="#000" stroke="#000" stroke-width="0.14" textLength="58" lengthAdjust="spacingAndGlyphs">29 May 01:00</text>
<text x="324" y="396.6" font-family="Liberation Sans, sans-serif" font-size="9.5" fill="#000" stroke="#000" stroke-width="0.14" textLength="58" lengthAdjust="spacingAndGlyphs">29 May 17:00</text>
<text x="388" y="396.6" font-family="Liberation Sans, sans-serif" font-size="9.5" fill="#000" stroke="#000" stroke-width="0.14" textLength="58" lengthAdjust="spacingAndGlyphs">30 May 09:00</text>
<text x="452" y="396.6" font-family="Liberation Sans, sans-serif" font-size="9.5" fill="#000" stroke="#000" stroke-width="0.14" textLength="58" lengthAdjust="spacingAndGlyphs">31 May 01:00</text>
</g>
</svg>
</body></html>
